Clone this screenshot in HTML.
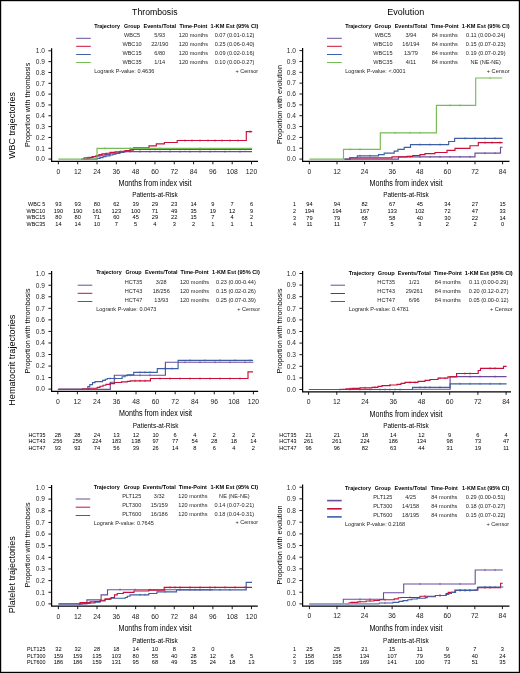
<!DOCTYPE html>
<html><head><meta charset="utf-8"><title>KM curves</title>
<style>
html,body{margin:0;padding:0;background:#fff;}
body{width:520px;height:673px;overflow:hidden;}
svg{display:block;will-change:transform;font-family:"Liberation Sans",sans-serif;}
</style></head><body>
<svg width="520" height="673" viewBox="0 0 520 673">
<rect x="0" y="0" width="520" height="673" fill="#fff"/>
<text x="154.80" y="14.60" font-size="8.9" text-anchor="middle" textLength="45.40" lengthAdjust="spacingAndGlyphs">Thrombosis</text>
<text x="405.70" y="14.70" font-size="8.9" text-anchor="middle" textLength="37.00" lengthAdjust="spacingAndGlyphs">Evolution</text>
<text x="0" y="0" font-size="9.3" text-anchor="middle" textLength="66.70" lengthAdjust="spacingAndGlyphs" transform="translate(14.90,125.45) rotate(-90)">WBC trajectories</text>
<text x="0" y="0" font-size="9.3" text-anchor="middle" textLength="91.00" lengthAdjust="spacingAndGlyphs" transform="translate(14.90,360.20) rotate(-90)">Hematocrit trajectories</text>
<text x="0" y="0" font-size="9.3" text-anchor="middle" textLength="77.00" lengthAdjust="spacingAndGlyphs" transform="translate(14.90,574.80) rotate(-90)">Platelet trajectories</text>
<path d="M51.60,48.20V161.30H258.00" fill="none" stroke="#000" stroke-width="1.25"/>
<line x1="48.40" y1="159.10" x2="51.60" y2="159.10" stroke="#000" stroke-width="0.9"/>
<text x="45.00" y="161.40" font-size="6.6" text-anchor="end" fill="#2a2a2a">0.0</text>
<line x1="48.40" y1="148.27" x2="51.60" y2="148.27" stroke="#000" stroke-width="0.9"/>
<text x="45.00" y="150.57" font-size="6.6" text-anchor="end" fill="#2a2a2a">0.1</text>
<line x1="48.40" y1="137.44" x2="51.60" y2="137.44" stroke="#000" stroke-width="0.9"/>
<text x="45.00" y="139.74" font-size="6.6" text-anchor="end" fill="#2a2a2a">0.2</text>
<line x1="48.40" y1="126.61" x2="51.60" y2="126.61" stroke="#000" stroke-width="0.9"/>
<text x="45.00" y="128.91" font-size="6.6" text-anchor="end" fill="#2a2a2a">0.3</text>
<line x1="48.40" y1="115.78" x2="51.60" y2="115.78" stroke="#000" stroke-width="0.9"/>
<text x="45.00" y="118.08" font-size="6.6" text-anchor="end" fill="#2a2a2a">0.4</text>
<line x1="48.40" y1="104.95" x2="51.60" y2="104.95" stroke="#000" stroke-width="0.9"/>
<text x="45.00" y="107.25" font-size="6.6" text-anchor="end" fill="#2a2a2a">0.5</text>
<line x1="48.40" y1="94.12" x2="51.60" y2="94.12" stroke="#000" stroke-width="0.9"/>
<text x="45.00" y="96.42" font-size="6.6" text-anchor="end" fill="#2a2a2a">0.6</text>
<line x1="48.40" y1="83.29" x2="51.60" y2="83.29" stroke="#000" stroke-width="0.9"/>
<text x="45.00" y="85.59" font-size="6.6" text-anchor="end" fill="#2a2a2a">0.7</text>
<line x1="48.40" y1="72.46" x2="51.60" y2="72.46" stroke="#000" stroke-width="0.9"/>
<text x="45.00" y="74.76" font-size="6.6" text-anchor="end" fill="#2a2a2a">0.8</text>
<line x1="48.40" y1="61.63" x2="51.60" y2="61.63" stroke="#000" stroke-width="0.9"/>
<text x="45.00" y="63.93" font-size="6.6" text-anchor="end" fill="#2a2a2a">0.9</text>
<line x1="48.40" y1="50.80" x2="51.60" y2="50.80" stroke="#000" stroke-width="0.9"/>
<text x="45.00" y="53.10" font-size="6.6" text-anchor="end" fill="#2a2a2a">1.0</text>
<line x1="58.40" y1="161.30" x2="58.40" y2="164.30" stroke="#000" stroke-width="0.9"/>
<text x="58.40" y="173.60" font-size="6.9" text-anchor="middle" textLength="3.80" lengthAdjust="spacingAndGlyphs" fill="#222">0</text>
<line x1="77.71" y1="161.30" x2="77.71" y2="164.30" stroke="#000" stroke-width="0.9"/>
<text x="77.71" y="173.60" font-size="6.9" text-anchor="middle" textLength="7.60" lengthAdjust="spacingAndGlyphs" fill="#222">12</text>
<line x1="97.02" y1="161.30" x2="97.02" y2="164.30" stroke="#000" stroke-width="0.9"/>
<text x="97.02" y="173.60" font-size="6.9" text-anchor="middle" textLength="7.60" lengthAdjust="spacingAndGlyphs" fill="#222">24</text>
<line x1="116.33" y1="161.30" x2="116.33" y2="164.30" stroke="#000" stroke-width="0.9"/>
<text x="116.33" y="173.60" font-size="6.9" text-anchor="middle" textLength="7.60" lengthAdjust="spacingAndGlyphs" fill="#222">36</text>
<line x1="135.64" y1="161.30" x2="135.64" y2="164.30" stroke="#000" stroke-width="0.9"/>
<text x="135.64" y="173.60" font-size="6.9" text-anchor="middle" textLength="7.60" lengthAdjust="spacingAndGlyphs" fill="#222">48</text>
<line x1="154.95" y1="161.30" x2="154.95" y2="164.30" stroke="#000" stroke-width="0.9"/>
<text x="154.95" y="173.60" font-size="6.9" text-anchor="middle" textLength="7.60" lengthAdjust="spacingAndGlyphs" fill="#222">60</text>
<line x1="174.26" y1="161.30" x2="174.26" y2="164.30" stroke="#000" stroke-width="0.9"/>
<text x="174.26" y="173.60" font-size="6.9" text-anchor="middle" textLength="7.60" lengthAdjust="spacingAndGlyphs" fill="#222">72</text>
<line x1="193.57" y1="161.30" x2="193.57" y2="164.30" stroke="#000" stroke-width="0.9"/>
<text x="193.57" y="173.60" font-size="6.9" text-anchor="middle" textLength="7.60" lengthAdjust="spacingAndGlyphs" fill="#222">84</text>
<line x1="212.88" y1="161.30" x2="212.88" y2="164.30" stroke="#000" stroke-width="0.9"/>
<text x="212.88" y="173.60" font-size="6.9" text-anchor="middle" textLength="7.60" lengthAdjust="spacingAndGlyphs" fill="#222">96</text>
<line x1="232.19" y1="161.30" x2="232.19" y2="164.30" stroke="#000" stroke-width="0.9"/>
<text x="232.19" y="173.60" font-size="6.9" text-anchor="middle" textLength="11.40" lengthAdjust="spacingAndGlyphs" fill="#222">108</text>
<line x1="251.50" y1="161.30" x2="251.50" y2="164.30" stroke="#000" stroke-width="0.9"/>
<text x="251.50" y="173.60" font-size="6.9" text-anchor="middle" textLength="11.40" lengthAdjust="spacingAndGlyphs" fill="#222">120</text>
<text x="154.95" y="185.80" font-size="9.2" text-anchor="middle" textLength="73.00" lengthAdjust="spacingAndGlyphs">Months from index visit</text>
<text x="154.95" y="197.30" font-size="6.6" text-anchor="middle" textLength="45.60" lengthAdjust="spacingAndGlyphs">Patients-at-Risk</text>
<text x="45.20" y="206.20" font-size="5.8" text-anchor="end" textLength="17.08" lengthAdjust="spacingAndGlyphs">WBC 5</text>
<text x="58.40" y="206.20" font-size="6.0" text-anchor="middle" textLength="6.34" lengthAdjust="spacingAndGlyphs">93</text>
<text x="77.71" y="206.20" font-size="6.0" text-anchor="middle" textLength="6.34" lengthAdjust="spacingAndGlyphs">93</text>
<text x="97.02" y="206.20" font-size="6.0" text-anchor="middle" textLength="6.34" lengthAdjust="spacingAndGlyphs">80</text>
<text x="116.33" y="206.20" font-size="6.0" text-anchor="middle" textLength="6.34" lengthAdjust="spacingAndGlyphs">62</text>
<text x="135.64" y="206.20" font-size="6.0" text-anchor="middle" textLength="6.34" lengthAdjust="spacingAndGlyphs">39</text>
<text x="154.95" y="206.20" font-size="6.0" text-anchor="middle" textLength="6.34" lengthAdjust="spacingAndGlyphs">29</text>
<text x="174.26" y="206.20" font-size="6.0" text-anchor="middle" textLength="6.34" lengthAdjust="spacingAndGlyphs">23</text>
<text x="193.57" y="206.20" font-size="6.0" text-anchor="middle" textLength="6.34" lengthAdjust="spacingAndGlyphs">14</text>
<text x="212.88" y="206.20" font-size="6.0" text-anchor="middle" textLength="3.17" lengthAdjust="spacingAndGlyphs">9</text>
<text x="232.19" y="206.20" font-size="6.0" text-anchor="middle" textLength="3.17" lengthAdjust="spacingAndGlyphs">7</text>
<text x="251.50" y="206.20" font-size="6.0" text-anchor="middle" textLength="3.17" lengthAdjust="spacingAndGlyphs">6</text>
<text x="45.20" y="212.80" font-size="5.8" text-anchor="end" textLength="18.58" lengthAdjust="spacingAndGlyphs">WBC10</text>
<text x="58.40" y="212.80" font-size="6.0" text-anchor="middle" textLength="9.51" lengthAdjust="spacingAndGlyphs">190</text>
<text x="77.71" y="212.80" font-size="6.0" text-anchor="middle" textLength="9.51" lengthAdjust="spacingAndGlyphs">190</text>
<text x="97.02" y="212.80" font-size="6.0" text-anchor="middle" textLength="9.51" lengthAdjust="spacingAndGlyphs">161</text>
<text x="116.33" y="212.80" font-size="6.0" text-anchor="middle" textLength="9.51" lengthAdjust="spacingAndGlyphs">123</text>
<text x="135.64" y="212.80" font-size="6.0" text-anchor="middle" textLength="9.51" lengthAdjust="spacingAndGlyphs">100</text>
<text x="154.95" y="212.80" font-size="6.0" text-anchor="middle" textLength="6.34" lengthAdjust="spacingAndGlyphs">71</text>
<text x="174.26" y="212.80" font-size="6.0" text-anchor="middle" textLength="6.34" lengthAdjust="spacingAndGlyphs">49</text>
<text x="193.57" y="212.80" font-size="6.0" text-anchor="middle" textLength="6.34" lengthAdjust="spacingAndGlyphs">35</text>
<text x="212.88" y="212.80" font-size="6.0" text-anchor="middle" textLength="6.34" lengthAdjust="spacingAndGlyphs">19</text>
<text x="232.19" y="212.80" font-size="6.0" text-anchor="middle" textLength="6.34" lengthAdjust="spacingAndGlyphs">12</text>
<text x="251.50" y="212.80" font-size="6.0" text-anchor="middle" textLength="3.17" lengthAdjust="spacingAndGlyphs">9</text>
<text x="45.20" y="219.30" font-size="5.8" text-anchor="end" textLength="18.58" lengthAdjust="spacingAndGlyphs">WBC15</text>
<text x="58.40" y="219.30" font-size="6.0" text-anchor="middle" textLength="6.34" lengthAdjust="spacingAndGlyphs">80</text>
<text x="77.71" y="219.30" font-size="6.0" text-anchor="middle" textLength="6.34" lengthAdjust="spacingAndGlyphs">80</text>
<text x="97.02" y="219.30" font-size="6.0" text-anchor="middle" textLength="6.34" lengthAdjust="spacingAndGlyphs">71</text>
<text x="116.33" y="219.30" font-size="6.0" text-anchor="middle" textLength="6.34" lengthAdjust="spacingAndGlyphs">60</text>
<text x="135.64" y="219.30" font-size="6.0" text-anchor="middle" textLength="6.34" lengthAdjust="spacingAndGlyphs">45</text>
<text x="154.95" y="219.30" font-size="6.0" text-anchor="middle" textLength="6.34" lengthAdjust="spacingAndGlyphs">29</text>
<text x="174.26" y="219.30" font-size="6.0" text-anchor="middle" textLength="6.34" lengthAdjust="spacingAndGlyphs">22</text>
<text x="193.57" y="219.30" font-size="6.0" text-anchor="middle" textLength="6.34" lengthAdjust="spacingAndGlyphs">15</text>
<text x="212.88" y="219.30" font-size="6.0" text-anchor="middle" textLength="3.17" lengthAdjust="spacingAndGlyphs">7</text>
<text x="232.19" y="219.30" font-size="6.0" text-anchor="middle" textLength="3.17" lengthAdjust="spacingAndGlyphs">4</text>
<text x="251.50" y="219.30" font-size="6.0" text-anchor="middle" textLength="3.17" lengthAdjust="spacingAndGlyphs">2</text>
<text x="45.20" y="225.80" font-size="5.8" text-anchor="end" textLength="18.58" lengthAdjust="spacingAndGlyphs">WBC35</text>
<text x="58.40" y="225.80" font-size="6.0" text-anchor="middle" textLength="6.34" lengthAdjust="spacingAndGlyphs">14</text>
<text x="77.71" y="225.80" font-size="6.0" text-anchor="middle" textLength="6.34" lengthAdjust="spacingAndGlyphs">14</text>
<text x="97.02" y="225.80" font-size="6.0" text-anchor="middle" textLength="6.34" lengthAdjust="spacingAndGlyphs">10</text>
<text x="116.33" y="225.80" font-size="6.0" text-anchor="middle" textLength="3.17" lengthAdjust="spacingAndGlyphs">7</text>
<text x="135.64" y="225.80" font-size="6.0" text-anchor="middle" textLength="3.17" lengthAdjust="spacingAndGlyphs">5</text>
<text x="154.95" y="225.80" font-size="6.0" text-anchor="middle" textLength="3.17" lengthAdjust="spacingAndGlyphs">4</text>
<text x="174.26" y="225.80" font-size="6.0" text-anchor="middle" textLength="3.17" lengthAdjust="spacingAndGlyphs">3</text>
<text x="193.57" y="225.80" font-size="6.0" text-anchor="middle" textLength="3.17" lengthAdjust="spacingAndGlyphs">2</text>
<text x="212.88" y="225.80" font-size="6.0" text-anchor="middle" textLength="3.17" lengthAdjust="spacingAndGlyphs">1</text>
<text x="232.19" y="225.80" font-size="6.0" text-anchor="middle" textLength="3.17" lengthAdjust="spacingAndGlyphs">1</text>
<text x="251.50" y="225.80" font-size="6.0" text-anchor="middle" textLength="3.17" lengthAdjust="spacingAndGlyphs">1</text>
<text x="0" y="0" font-size="7.1" text-anchor="middle" textLength="84.30" lengthAdjust="spacingAndGlyphs" transform="translate(30.40,104.90) rotate(-90)">Proportion with thrombosis</text>
<text x="107.10" y="27.70" font-size="5.5" text-anchor="middle" font-weight="bold" textLength="25.80" lengthAdjust="spacingAndGlyphs">Trajectory</text>
<text x="132.00" y="27.70" font-size="5.5" text-anchor="middle" font-weight="bold" textLength="16.00" lengthAdjust="spacingAndGlyphs">Group</text>
<text x="159.80" y="27.70" font-size="5.5" text-anchor="middle" font-weight="bold" textLength="32.70" lengthAdjust="spacingAndGlyphs">Events/Total</text>
<text x="193.40" y="27.70" font-size="5.5" text-anchor="middle" font-weight="bold" textLength="27.80" lengthAdjust="spacingAndGlyphs">Time-Point</text>
<text x="234.50" y="27.70" font-size="5.5" text-anchor="middle" font-weight="bold" textLength="47.80" lengthAdjust="spacingAndGlyphs">1-KM Est (95% CI)</text>
<line x1="76.20" y1="38.30" x2="90.80" y2="38.30" stroke="#6b4c9a" stroke-width="1.0"/>
<text x="132.00" y="37.00" font-size="6.2" text-anchor="middle" textLength="16.12" lengthAdjust="spacingAndGlyphs" fill="#262626">WBC5</text>
<text x="159.80" y="37.00" font-size="6.2" text-anchor="middle" textLength="10.86" lengthAdjust="spacingAndGlyphs" fill="#262626">5/93</text>
<text x="193.40" y="37.00" font-size="6.2" text-anchor="middle" textLength="29.16" lengthAdjust="spacingAndGlyphs" fill="#262626">120 months</text>
<text x="234.50" y="37.00" font-size="6.2" text-anchor="middle" textLength="39.71" lengthAdjust="spacingAndGlyphs" fill="#262626">0.07 (0.01-0.12)</text>
<line x1="76.20" y1="46.30" x2="90.80" y2="46.30" stroke="#c8103a" stroke-width="1.0"/>
<text x="132.00" y="46.20" font-size="6.2" text-anchor="middle" textLength="19.23" lengthAdjust="spacingAndGlyphs" fill="#262626">WBC10</text>
<text x="159.80" y="46.20" font-size="6.2" text-anchor="middle" textLength="17.07" lengthAdjust="spacingAndGlyphs" fill="#262626">22/190</text>
<text x="193.40" y="46.20" font-size="6.2" text-anchor="middle" textLength="29.16" lengthAdjust="spacingAndGlyphs" fill="#262626">120 months</text>
<text x="234.50" y="46.20" font-size="6.2" text-anchor="middle" textLength="39.71" lengthAdjust="spacingAndGlyphs" fill="#262626">0.25 (0.06-0.40)</text>
<line x1="76.20" y1="54.50" x2="90.80" y2="54.50" stroke="#3e5fa3" stroke-width="1.0"/>
<text x="132.00" y="55.20" font-size="6.2" text-anchor="middle" textLength="19.23" lengthAdjust="spacingAndGlyphs" fill="#262626">WBC15</text>
<text x="159.80" y="55.20" font-size="6.2" text-anchor="middle" textLength="10.86" lengthAdjust="spacingAndGlyphs" fill="#262626">6/80</text>
<text x="193.40" y="55.20" font-size="6.2" text-anchor="middle" textLength="29.16" lengthAdjust="spacingAndGlyphs" fill="#262626">120 months</text>
<text x="234.50" y="55.20" font-size="6.2" text-anchor="middle" textLength="39.71" lengthAdjust="spacingAndGlyphs" fill="#262626">0.09 (0.02-0.16)</text>
<line x1="76.20" y1="62.50" x2="90.80" y2="62.50" stroke="#76bc55" stroke-width="1.0"/>
<text x="132.00" y="64.10" font-size="6.2" text-anchor="middle" textLength="19.23" lengthAdjust="spacingAndGlyphs" fill="#262626">WBC35</text>
<text x="159.80" y="64.10" font-size="6.2" text-anchor="middle" textLength="10.86" lengthAdjust="spacingAndGlyphs" fill="#262626">1/14</text>
<text x="193.40" y="64.10" font-size="6.2" text-anchor="middle" textLength="29.16" lengthAdjust="spacingAndGlyphs" fill="#262626">120 months</text>
<text x="234.50" y="64.10" font-size="6.2" text-anchor="middle" textLength="39.71" lengthAdjust="spacingAndGlyphs" fill="#262626">0.10 (0.00-0.27)</text>
<text x="94.20" y="73.20" font-size="6.2" textLength="60.13" lengthAdjust="spacingAndGlyphs" fill="#262626">Logrank P-value: 0.4636</text>
<text x="258.20" y="73.20" font-size="6.2" text-anchor="end" textLength="22.80" lengthAdjust="spacingAndGlyphs" fill="#262626">+ Censor</text>
<path d="M81.00,159.10H84.00V157.90H88.00V157.20H92.00V156.60H97.00V156.00H101.00V155.20H105.00V154.40H110.00V153.70H115.00V153.00H119.00V152.30H124.00V151.60H252.00V151.60" fill="none" stroke="#6b4c9a" stroke-width="1.15" stroke-opacity="1.0"/>
<path d="M130.00,150.50V152.70M140.00,150.50V152.70M150.00,150.50V152.70M160.00,150.50V152.70M170.00,150.50V152.70M180.00,150.50V152.70M190.00,150.50V152.70M200.00,150.50V152.70M210.00,150.50V152.70M225.00,150.50V152.70M240.00,150.50V152.70" fill="none" stroke="#6b4c9a" stroke-width="0.7" stroke-opacity="1.0"/>
<path d="M83.00,159.10H97.00V158.40H100.00V157.60H103.00V156.60H106.00V155.80H110.00V155.00H113.00V154.20H116.00V153.40H120.00V152.40H123.00V151.60H126.00V151.00H130.00V150.00H133.00V149.30H252.00V149.30" fill="none" stroke="#3e5fa3" stroke-width="1.15" stroke-opacity="1.0"/>
<path d="M140.00,148.20V150.40M155.00,148.20V150.40M170.00,148.20V150.40M185.00,148.20V150.40M200.00,148.20V150.40M215.00,148.20V150.40M230.00,148.20V150.40M245.00,148.20V150.40" fill="none" stroke="#3e5fa3" stroke-width="0.7" stroke-opacity="1.0"/>
<path d="M84.00,159.10H87.00V158.30H90.00V157.50H93.00V156.60H96.00V155.60H99.00V154.60H102.00V153.90H106.00V153.20H110.00V152.40H115.00V151.80H120.00V151.20H125.00V150.50H130.00V149.80H133.50V147.90H149.00V145.90H156.30V143.90H164.40V142.50H177.20V140.50H246.30V131.60H252.20V131.60" fill="none" stroke="#c8103a" stroke-width="1.15" stroke-opacity="1.0"/>
<path d="M185.00,139.40V141.60M192.00,139.40V141.60M200.00,139.40V141.60M208.00,139.40V141.60M215.00,139.40V141.60M222.00,139.40V141.60M230.00,139.40V141.60M238.00,139.40V141.60M250.00,130.50V132.70" fill="none" stroke="#c8103a" stroke-width="0.7" stroke-opacity="1.0"/>
<path d="M58.40,159.10H97.00V148.30H252.20V148.30" fill="none" stroke="#76bc55" stroke-width="1.15" stroke-opacity="1.0"/>
<path d="M105.00,147.20V149.40M130.00,147.20V149.40M160.00,147.20V149.40M200.00,147.20V149.40" fill="none" stroke="#76bc55" stroke-width="0.7" stroke-opacity="1.0"/>
<path d="M302.60,48.00V161.30H509.50" fill="none" stroke="#000" stroke-width="1.25"/>
<line x1="299.40" y1="159.10" x2="302.60" y2="159.10" stroke="#000" stroke-width="0.9"/>
<text x="296.00" y="161.40" font-size="6.6" text-anchor="end" fill="#2a2a2a">0.0</text>
<line x1="299.40" y1="148.25" x2="302.60" y2="148.25" stroke="#000" stroke-width="0.9"/>
<text x="296.00" y="150.55" font-size="6.6" text-anchor="end" fill="#2a2a2a">0.1</text>
<line x1="299.40" y1="137.40" x2="302.60" y2="137.40" stroke="#000" stroke-width="0.9"/>
<text x="296.00" y="139.70" font-size="6.6" text-anchor="end" fill="#2a2a2a">0.2</text>
<line x1="299.40" y1="126.55" x2="302.60" y2="126.55" stroke="#000" stroke-width="0.9"/>
<text x="296.00" y="128.85" font-size="6.6" text-anchor="end" fill="#2a2a2a">0.3</text>
<line x1="299.40" y1="115.70" x2="302.60" y2="115.70" stroke="#000" stroke-width="0.9"/>
<text x="296.00" y="118.00" font-size="6.6" text-anchor="end" fill="#2a2a2a">0.4</text>
<line x1="299.40" y1="104.85" x2="302.60" y2="104.85" stroke="#000" stroke-width="0.9"/>
<text x="296.00" y="107.15" font-size="6.6" text-anchor="end" fill="#2a2a2a">0.5</text>
<line x1="299.40" y1="94.00" x2="302.60" y2="94.00" stroke="#000" stroke-width="0.9"/>
<text x="296.00" y="96.30" font-size="6.6" text-anchor="end" fill="#2a2a2a">0.6</text>
<line x1="299.40" y1="83.15" x2="302.60" y2="83.15" stroke="#000" stroke-width="0.9"/>
<text x="296.00" y="85.45" font-size="6.6" text-anchor="end" fill="#2a2a2a">0.7</text>
<line x1="299.40" y1="72.30" x2="302.60" y2="72.30" stroke="#000" stroke-width="0.9"/>
<text x="296.00" y="74.60" font-size="6.6" text-anchor="end" fill="#2a2a2a">0.8</text>
<line x1="299.40" y1="61.45" x2="302.60" y2="61.45" stroke="#000" stroke-width="0.9"/>
<text x="296.00" y="63.75" font-size="6.6" text-anchor="end" fill="#2a2a2a">0.9</text>
<line x1="299.40" y1="50.60" x2="302.60" y2="50.60" stroke="#000" stroke-width="0.9"/>
<text x="296.00" y="52.90" font-size="6.6" text-anchor="end" fill="#2a2a2a">1.0</text>
<line x1="309.40" y1="161.30" x2="309.40" y2="164.30" stroke="#000" stroke-width="0.9"/>
<text x="309.40" y="173.60" font-size="6.9" text-anchor="middle" textLength="3.80" lengthAdjust="spacingAndGlyphs" fill="#222">0</text>
<line x1="337.00" y1="161.30" x2="337.00" y2="164.30" stroke="#000" stroke-width="0.9"/>
<text x="337.00" y="173.60" font-size="6.9" text-anchor="middle" textLength="7.60" lengthAdjust="spacingAndGlyphs" fill="#222">12</text>
<line x1="364.60" y1="161.30" x2="364.60" y2="164.30" stroke="#000" stroke-width="0.9"/>
<text x="364.60" y="173.60" font-size="6.9" text-anchor="middle" textLength="7.60" lengthAdjust="spacingAndGlyphs" fill="#222">24</text>
<line x1="392.20" y1="161.30" x2="392.20" y2="164.30" stroke="#000" stroke-width="0.9"/>
<text x="392.20" y="173.60" font-size="6.9" text-anchor="middle" textLength="7.60" lengthAdjust="spacingAndGlyphs" fill="#222">36</text>
<line x1="419.80" y1="161.30" x2="419.80" y2="164.30" stroke="#000" stroke-width="0.9"/>
<text x="419.80" y="173.60" font-size="6.9" text-anchor="middle" textLength="7.60" lengthAdjust="spacingAndGlyphs" fill="#222">48</text>
<line x1="447.40" y1="161.30" x2="447.40" y2="164.30" stroke="#000" stroke-width="0.9"/>
<text x="447.40" y="173.60" font-size="6.9" text-anchor="middle" textLength="7.60" lengthAdjust="spacingAndGlyphs" fill="#222">60</text>
<line x1="475.00" y1="161.30" x2="475.00" y2="164.30" stroke="#000" stroke-width="0.9"/>
<text x="475.00" y="173.60" font-size="6.9" text-anchor="middle" textLength="7.60" lengthAdjust="spacingAndGlyphs" fill="#222">72</text>
<line x1="502.60" y1="161.30" x2="502.60" y2="164.30" stroke="#000" stroke-width="0.9"/>
<text x="502.60" y="173.60" font-size="6.9" text-anchor="middle" textLength="7.60" lengthAdjust="spacingAndGlyphs" fill="#222">84</text>
<text x="406.00" y="185.80" font-size="9.2" text-anchor="middle" textLength="73.00" lengthAdjust="spacingAndGlyphs">Months from index visit</text>
<text x="406.00" y="197.30" font-size="6.6" text-anchor="middle" textLength="45.60" lengthAdjust="spacingAndGlyphs">Patients-at-Risk</text>
<text x="294.60" y="206.30" font-size="5.8" text-anchor="middle" textLength="3.00" lengthAdjust="spacingAndGlyphs">1</text>
<text x="309.40" y="206.30" font-size="6.0" text-anchor="middle" textLength="6.34" lengthAdjust="spacingAndGlyphs">94</text>
<text x="337.00" y="206.30" font-size="6.0" text-anchor="middle" textLength="6.34" lengthAdjust="spacingAndGlyphs">94</text>
<text x="364.60" y="206.30" font-size="6.0" text-anchor="middle" textLength="6.34" lengthAdjust="spacingAndGlyphs">82</text>
<text x="392.20" y="206.30" font-size="6.0" text-anchor="middle" textLength="6.34" lengthAdjust="spacingAndGlyphs">67</text>
<text x="419.80" y="206.30" font-size="6.0" text-anchor="middle" textLength="6.34" lengthAdjust="spacingAndGlyphs">45</text>
<text x="447.40" y="206.30" font-size="6.0" text-anchor="middle" textLength="6.34" lengthAdjust="spacingAndGlyphs">34</text>
<text x="475.00" y="206.30" font-size="6.0" text-anchor="middle" textLength="6.34" lengthAdjust="spacingAndGlyphs">27</text>
<text x="502.60" y="206.30" font-size="6.0" text-anchor="middle" textLength="6.34" lengthAdjust="spacingAndGlyphs">15</text>
<text x="294.60" y="212.80" font-size="5.8" text-anchor="middle" textLength="3.00" lengthAdjust="spacingAndGlyphs">2</text>
<text x="309.40" y="212.80" font-size="6.0" text-anchor="middle" textLength="9.51" lengthAdjust="spacingAndGlyphs">194</text>
<text x="337.00" y="212.80" font-size="6.0" text-anchor="middle" textLength="9.51" lengthAdjust="spacingAndGlyphs">194</text>
<text x="364.60" y="212.80" font-size="6.0" text-anchor="middle" textLength="9.51" lengthAdjust="spacingAndGlyphs">167</text>
<text x="392.20" y="212.80" font-size="6.0" text-anchor="middle" textLength="9.51" lengthAdjust="spacingAndGlyphs">133</text>
<text x="419.80" y="212.80" font-size="6.0" text-anchor="middle" textLength="9.51" lengthAdjust="spacingAndGlyphs">102</text>
<text x="447.40" y="212.80" font-size="6.0" text-anchor="middle" textLength="6.34" lengthAdjust="spacingAndGlyphs">72</text>
<text x="475.00" y="212.80" font-size="6.0" text-anchor="middle" textLength="6.34" lengthAdjust="spacingAndGlyphs">47</text>
<text x="502.60" y="212.80" font-size="6.0" text-anchor="middle" textLength="6.34" lengthAdjust="spacingAndGlyphs">33</text>
<text x="294.60" y="219.50" font-size="5.8" text-anchor="middle" textLength="3.00" lengthAdjust="spacingAndGlyphs">3</text>
<text x="309.40" y="219.50" font-size="6.0" text-anchor="middle" textLength="6.34" lengthAdjust="spacingAndGlyphs">79</text>
<text x="337.00" y="219.50" font-size="6.0" text-anchor="middle" textLength="6.34" lengthAdjust="spacingAndGlyphs">79</text>
<text x="364.60" y="219.50" font-size="6.0" text-anchor="middle" textLength="6.34" lengthAdjust="spacingAndGlyphs">68</text>
<text x="392.20" y="219.50" font-size="6.0" text-anchor="middle" textLength="6.34" lengthAdjust="spacingAndGlyphs">58</text>
<text x="419.80" y="219.50" font-size="6.0" text-anchor="middle" textLength="6.34" lengthAdjust="spacingAndGlyphs">40</text>
<text x="447.40" y="219.50" font-size="6.0" text-anchor="middle" textLength="6.34" lengthAdjust="spacingAndGlyphs">30</text>
<text x="475.00" y="219.50" font-size="6.0" text-anchor="middle" textLength="6.34" lengthAdjust="spacingAndGlyphs">22</text>
<text x="502.60" y="219.50" font-size="6.0" text-anchor="middle" textLength="6.34" lengthAdjust="spacingAndGlyphs">14</text>
<text x="294.60" y="226.30" font-size="5.8" text-anchor="middle" textLength="3.00" lengthAdjust="spacingAndGlyphs">4</text>
<text x="309.40" y="226.30" font-size="6.0" text-anchor="middle" textLength="5.92" lengthAdjust="spacingAndGlyphs">11</text>
<text x="337.00" y="226.30" font-size="6.0" text-anchor="middle" textLength="5.92" lengthAdjust="spacingAndGlyphs">11</text>
<text x="364.60" y="226.30" font-size="6.0" text-anchor="middle" textLength="3.17" lengthAdjust="spacingAndGlyphs">7</text>
<text x="392.20" y="226.30" font-size="6.0" text-anchor="middle" textLength="3.17" lengthAdjust="spacingAndGlyphs">5</text>
<text x="419.80" y="226.30" font-size="6.0" text-anchor="middle" textLength="3.17" lengthAdjust="spacingAndGlyphs">3</text>
<text x="447.40" y="226.30" font-size="6.0" text-anchor="middle" textLength="3.17" lengthAdjust="spacingAndGlyphs">2</text>
<text x="475.00" y="226.30" font-size="6.0" text-anchor="middle" textLength="3.17" lengthAdjust="spacingAndGlyphs">2</text>
<text x="502.60" y="226.30" font-size="6.0" text-anchor="middle" textLength="3.17" lengthAdjust="spacingAndGlyphs">0</text>
<text x="0" y="0" font-size="7.1" text-anchor="middle" textLength="79.00" lengthAdjust="spacingAndGlyphs" transform="translate(282.00,104.60) rotate(-90)">Proportion with evolution</text>
<text x="358.20" y="27.70" font-size="5.5" text-anchor="middle" font-weight="bold" textLength="26.00" lengthAdjust="spacingAndGlyphs">Trajectory</text>
<text x="382.90" y="27.70" font-size="5.5" text-anchor="middle" font-weight="bold" textLength="16.60" lengthAdjust="spacingAndGlyphs">Group</text>
<text x="410.90" y="27.70" font-size="5.5" text-anchor="middle" font-weight="bold" textLength="32.50" lengthAdjust="spacingAndGlyphs">Events/Total</text>
<text x="444.70" y="27.70" font-size="5.5" text-anchor="middle" font-weight="bold" textLength="28.00" lengthAdjust="spacingAndGlyphs">Time-Point</text>
<text x="485.70" y="27.70" font-size="5.5" text-anchor="middle" font-weight="bold" textLength="47.80" lengthAdjust="spacingAndGlyphs">1-KM Est (95% CI)</text>
<line x1="327.00" y1="38.30" x2="341.80" y2="38.30" stroke="#6b4c9a" stroke-width="1.0"/>
<text x="382.90" y="37.00" font-size="6.2" text-anchor="middle" textLength="16.12" lengthAdjust="spacingAndGlyphs" fill="#262626">WBC5</text>
<text x="410.90" y="37.00" font-size="6.2" text-anchor="middle" textLength="10.86" lengthAdjust="spacingAndGlyphs" fill="#262626">3/94</text>
<text x="444.70" y="37.00" font-size="6.2" text-anchor="middle" textLength="26.06" lengthAdjust="spacingAndGlyphs" fill="#262626">84 months</text>
<text x="485.70" y="37.00" font-size="6.2" text-anchor="middle" textLength="39.29" lengthAdjust="spacingAndGlyphs" fill="#262626">0.11 (0.00-0.24)</text>
<line x1="327.00" y1="46.30" x2="341.80" y2="46.30" stroke="#c8103a" stroke-width="1.0"/>
<text x="382.90" y="46.20" font-size="6.2" text-anchor="middle" textLength="19.23" lengthAdjust="spacingAndGlyphs" fill="#262626">WBC10</text>
<text x="410.90" y="46.20" font-size="6.2" text-anchor="middle" textLength="17.07" lengthAdjust="spacingAndGlyphs" fill="#262626">16/194</text>
<text x="444.70" y="46.20" font-size="6.2" text-anchor="middle" textLength="26.06" lengthAdjust="spacingAndGlyphs" fill="#262626">84 months</text>
<text x="485.70" y="46.20" font-size="6.2" text-anchor="middle" textLength="39.71" lengthAdjust="spacingAndGlyphs" fill="#262626">0.15 (0.07-0.23)</text>
<line x1="327.00" y1="54.50" x2="341.80" y2="54.50" stroke="#3e5fa3" stroke-width="1.0"/>
<text x="382.90" y="55.20" font-size="6.2" text-anchor="middle" textLength="19.23" lengthAdjust="spacingAndGlyphs" fill="#262626">WBC15</text>
<text x="410.90" y="55.20" font-size="6.2" text-anchor="middle" textLength="13.96" lengthAdjust="spacingAndGlyphs" fill="#262626">13/79</text>
<text x="444.70" y="55.20" font-size="6.2" text-anchor="middle" textLength="26.06" lengthAdjust="spacingAndGlyphs" fill="#262626">84 months</text>
<text x="485.70" y="55.20" font-size="6.2" text-anchor="middle" textLength="39.71" lengthAdjust="spacingAndGlyphs" fill="#262626">0.19 (0.07-0.29)</text>
<line x1="327.00" y1="62.50" x2="341.80" y2="62.50" stroke="#76bc55" stroke-width="1.0"/>
<text x="382.90" y="64.10" font-size="6.2" text-anchor="middle" textLength="19.23" lengthAdjust="spacingAndGlyphs" fill="#262626">WBC35</text>
<text x="410.90" y="64.10" font-size="6.2" text-anchor="middle" textLength="10.45" lengthAdjust="spacingAndGlyphs" fill="#262626">4/11</text>
<text x="444.70" y="64.10" font-size="6.2" text-anchor="middle" textLength="26.06" lengthAdjust="spacingAndGlyphs" fill="#262626">84 months</text>
<text x="485.70" y="64.10" font-size="6.2" text-anchor="middle" textLength="30.38" lengthAdjust="spacingAndGlyphs" fill="#262626">NE (NE-NE)</text>
<text x="345.20" y="73.20" font-size="6.2" textLength="60.28" lengthAdjust="spacingAndGlyphs" fill="#262626">Logrank P-value: &lt;.0001</text>
<text x="509.60" y="73.20" font-size="6.2" text-anchor="end" textLength="22.80" lengthAdjust="spacingAndGlyphs" fill="#262626">+ Censor</text>
<path d="M349.00,159.10H398.50V156.90H475.00V153.10H500.50V147.20H502.60V147.20" fill="none" stroke="#6b4c9a" stroke-width="1.15" stroke-opacity="1.0"/>
<path d="M410.00,155.80V158.00M420.00,155.80V158.00M430.00,155.80V158.00M440.00,155.80V158.00M450.00,155.80V158.00M460.00,155.80V158.00M470.00,155.80V158.00M485.00,152.00V154.20M495.00,152.00V154.20" fill="none" stroke="#6b4c9a" stroke-width="0.7" stroke-opacity="1.0"/>
<path d="M345.00,159.10H350.00V157.80H392.00V156.90H407.00V156.40H412.70V155.50H420.00V154.60H425.00V153.60H435.00V152.50H447.00V150.40H455.00V148.30H470.00V145.70H478.30V142.60H502.60V142.60" fill="none" stroke="#c8103a" stroke-width="1.15" stroke-opacity="1.0"/>
<path d="M485.00,141.50V143.70M492.00,141.50V143.70M500.00,141.50V143.70" fill="none" stroke="#c8103a" stroke-width="0.7" stroke-opacity="1.0"/>
<path d="M344.00,159.10H349.60V157.70H357.30V155.80H378.50V154.60H384.20V153.10H394.20V151.10H398.00V149.30H404.20V147.40H410.50V144.60H448.70V141.50H454.60V138.30H502.60V138.30" fill="none" stroke="#3e5fa3" stroke-width="1.15" stroke-opacity="1.0"/>
<path d="M360.00,154.70V156.90M370.00,154.70V156.90M420.00,143.50V145.70M430.00,143.50V145.70M440.00,143.50V145.70M465.00,137.20V139.40M475.00,137.20V139.40M485.00,137.20V139.40M495.00,137.20V139.40" fill="none" stroke="#3e5fa3" stroke-width="0.7" stroke-opacity="1.0"/>
<path d="M309.40,159.10H343.50V149.30H380.30V132.80H436.40V105.30H475.70V78.00H502.30V78.00" fill="none" stroke="#76bc55" stroke-width="1.15" stroke-opacity="1.0"/>
<path d="M350.00,148.20V150.40M360.00,148.20V150.40M395.00,131.70V133.90M410.00,131.70V133.90M420.00,131.70V133.90M450.00,104.20V106.40M460.00,104.20V106.40M490.00,76.90V79.10" fill="none" stroke="#76bc55" stroke-width="0.7" stroke-opacity="1.0"/>
<path d="M51.60,271.10V391.30H258.20" fill="none" stroke="#000" stroke-width="1.25"/>
<line x1="48.40" y1="389.15" x2="51.60" y2="389.15" stroke="#000" stroke-width="0.9"/>
<text x="45.00" y="391.45" font-size="6.6" text-anchor="end" fill="#2a2a2a">0.0</text>
<line x1="48.40" y1="377.60" x2="51.60" y2="377.60" stroke="#000" stroke-width="0.9"/>
<text x="45.00" y="379.90" font-size="6.6" text-anchor="end" fill="#2a2a2a">0.1</text>
<line x1="48.40" y1="366.06" x2="51.60" y2="366.06" stroke="#000" stroke-width="0.9"/>
<text x="45.00" y="368.36" font-size="6.6" text-anchor="end" fill="#2a2a2a">0.2</text>
<line x1="48.40" y1="354.51" x2="51.60" y2="354.51" stroke="#000" stroke-width="0.9"/>
<text x="45.00" y="356.81" font-size="6.6" text-anchor="end" fill="#2a2a2a">0.3</text>
<line x1="48.40" y1="342.97" x2="51.60" y2="342.97" stroke="#000" stroke-width="0.9"/>
<text x="45.00" y="345.27" font-size="6.6" text-anchor="end" fill="#2a2a2a">0.4</text>
<line x1="48.40" y1="331.42" x2="51.60" y2="331.42" stroke="#000" stroke-width="0.9"/>
<text x="45.00" y="333.72" font-size="6.6" text-anchor="end" fill="#2a2a2a">0.5</text>
<line x1="48.40" y1="319.88" x2="51.60" y2="319.88" stroke="#000" stroke-width="0.9"/>
<text x="45.00" y="322.18" font-size="6.6" text-anchor="end" fill="#2a2a2a">0.6</text>
<line x1="48.40" y1="308.33" x2="51.60" y2="308.33" stroke="#000" stroke-width="0.9"/>
<text x="45.00" y="310.63" font-size="6.6" text-anchor="end" fill="#2a2a2a">0.7</text>
<line x1="48.40" y1="296.79" x2="51.60" y2="296.79" stroke="#000" stroke-width="0.9"/>
<text x="45.00" y="299.09" font-size="6.6" text-anchor="end" fill="#2a2a2a">0.8</text>
<line x1="48.40" y1="285.25" x2="51.60" y2="285.25" stroke="#000" stroke-width="0.9"/>
<text x="45.00" y="287.55" font-size="6.6" text-anchor="end" fill="#2a2a2a">0.9</text>
<line x1="48.40" y1="273.70" x2="51.60" y2="273.70" stroke="#000" stroke-width="0.9"/>
<text x="45.00" y="276.00" font-size="6.6" text-anchor="end" fill="#2a2a2a">1.0</text>
<line x1="57.80" y1="391.30" x2="57.80" y2="394.30" stroke="#000" stroke-width="0.9"/>
<text x="57.80" y="403.90" font-size="6.9" text-anchor="middle" textLength="3.80" lengthAdjust="spacingAndGlyphs" fill="#222">0</text>
<line x1="77.36" y1="391.30" x2="77.36" y2="394.30" stroke="#000" stroke-width="0.9"/>
<text x="77.36" y="403.90" font-size="6.9" text-anchor="middle" textLength="7.60" lengthAdjust="spacingAndGlyphs" fill="#222">12</text>
<line x1="96.92" y1="391.30" x2="96.92" y2="394.30" stroke="#000" stroke-width="0.9"/>
<text x="96.92" y="403.90" font-size="6.9" text-anchor="middle" textLength="7.60" lengthAdjust="spacingAndGlyphs" fill="#222">24</text>
<line x1="116.48" y1="391.30" x2="116.48" y2="394.30" stroke="#000" stroke-width="0.9"/>
<text x="116.48" y="403.90" font-size="6.9" text-anchor="middle" textLength="7.60" lengthAdjust="spacingAndGlyphs" fill="#222">36</text>
<line x1="136.04" y1="391.30" x2="136.04" y2="394.30" stroke="#000" stroke-width="0.9"/>
<text x="136.04" y="403.90" font-size="6.9" text-anchor="middle" textLength="7.60" lengthAdjust="spacingAndGlyphs" fill="#222">48</text>
<line x1="155.60" y1="391.30" x2="155.60" y2="394.30" stroke="#000" stroke-width="0.9"/>
<text x="155.60" y="403.90" font-size="6.9" text-anchor="middle" textLength="7.60" lengthAdjust="spacingAndGlyphs" fill="#222">60</text>
<line x1="175.16" y1="391.30" x2="175.16" y2="394.30" stroke="#000" stroke-width="0.9"/>
<text x="175.16" y="403.90" font-size="6.9" text-anchor="middle" textLength="7.60" lengthAdjust="spacingAndGlyphs" fill="#222">72</text>
<line x1="194.72" y1="391.30" x2="194.72" y2="394.30" stroke="#000" stroke-width="0.9"/>
<text x="194.72" y="403.90" font-size="6.9" text-anchor="middle" textLength="7.60" lengthAdjust="spacingAndGlyphs" fill="#222">84</text>
<line x1="214.28" y1="391.30" x2="214.28" y2="394.30" stroke="#000" stroke-width="0.9"/>
<text x="214.28" y="403.90" font-size="6.9" text-anchor="middle" textLength="7.60" lengthAdjust="spacingAndGlyphs" fill="#222">96</text>
<line x1="233.84" y1="391.30" x2="233.84" y2="394.30" stroke="#000" stroke-width="0.9"/>
<text x="233.84" y="403.90" font-size="6.9" text-anchor="middle" textLength="11.40" lengthAdjust="spacingAndGlyphs" fill="#222">108</text>
<line x1="253.40" y1="391.30" x2="253.40" y2="394.30" stroke="#000" stroke-width="0.9"/>
<text x="253.40" y="403.90" font-size="6.9" text-anchor="middle" textLength="11.40" lengthAdjust="spacingAndGlyphs" fill="#222">120</text>
<text x="155.60" y="416.40" font-size="9.2" text-anchor="middle" textLength="73.00" lengthAdjust="spacingAndGlyphs">Months from index visit</text>
<text x="155.60" y="427.90" font-size="6.6" text-anchor="middle" textLength="45.60" lengthAdjust="spacingAndGlyphs">Patients-at-Risk</text>
<text x="45.50" y="436.70" font-size="5.8" text-anchor="end" textLength="17.09" lengthAdjust="spacingAndGlyphs">HCT35</text>
<text x="57.80" y="436.70" font-size="6.0" text-anchor="middle" textLength="6.34" lengthAdjust="spacingAndGlyphs">28</text>
<text x="77.36" y="436.70" font-size="6.0" text-anchor="middle" textLength="6.34" lengthAdjust="spacingAndGlyphs">28</text>
<text x="96.92" y="436.70" font-size="6.0" text-anchor="middle" textLength="6.34" lengthAdjust="spacingAndGlyphs">24</text>
<text x="116.48" y="436.70" font-size="6.0" text-anchor="middle" textLength="6.34" lengthAdjust="spacingAndGlyphs">13</text>
<text x="136.04" y="436.70" font-size="6.0" text-anchor="middle" textLength="6.34" lengthAdjust="spacingAndGlyphs">12</text>
<text x="155.60" y="436.70" font-size="6.0" text-anchor="middle" textLength="6.34" lengthAdjust="spacingAndGlyphs">10</text>
<text x="175.16" y="436.70" font-size="6.0" text-anchor="middle" textLength="3.17" lengthAdjust="spacingAndGlyphs">6</text>
<text x="194.72" y="436.70" font-size="6.0" text-anchor="middle" textLength="3.17" lengthAdjust="spacingAndGlyphs">4</text>
<text x="214.28" y="436.70" font-size="6.0" text-anchor="middle" textLength="3.17" lengthAdjust="spacingAndGlyphs">2</text>
<text x="233.84" y="436.70" font-size="6.0" text-anchor="middle" textLength="3.17" lengthAdjust="spacingAndGlyphs">2</text>
<text x="253.40" y="436.70" font-size="6.0" text-anchor="middle" textLength="3.17" lengthAdjust="spacingAndGlyphs">2</text>
<text x="45.50" y="443.20" font-size="5.8" text-anchor="end" textLength="17.09" lengthAdjust="spacingAndGlyphs">HCT43</text>
<text x="57.80" y="443.20" font-size="6.0" text-anchor="middle" textLength="9.51" lengthAdjust="spacingAndGlyphs">256</text>
<text x="77.36" y="443.20" font-size="6.0" text-anchor="middle" textLength="9.51" lengthAdjust="spacingAndGlyphs">256</text>
<text x="96.92" y="443.20" font-size="6.0" text-anchor="middle" textLength="9.51" lengthAdjust="spacingAndGlyphs">224</text>
<text x="116.48" y="443.20" font-size="6.0" text-anchor="middle" textLength="9.51" lengthAdjust="spacingAndGlyphs">183</text>
<text x="136.04" y="443.20" font-size="6.0" text-anchor="middle" textLength="9.51" lengthAdjust="spacingAndGlyphs">138</text>
<text x="155.60" y="443.20" font-size="6.0" text-anchor="middle" textLength="6.34" lengthAdjust="spacingAndGlyphs">97</text>
<text x="175.16" y="443.20" font-size="6.0" text-anchor="middle" textLength="6.34" lengthAdjust="spacingAndGlyphs">77</text>
<text x="194.72" y="443.20" font-size="6.0" text-anchor="middle" textLength="6.34" lengthAdjust="spacingAndGlyphs">54</text>
<text x="214.28" y="443.20" font-size="6.0" text-anchor="middle" textLength="6.34" lengthAdjust="spacingAndGlyphs">28</text>
<text x="233.84" y="443.20" font-size="6.0" text-anchor="middle" textLength="6.34" lengthAdjust="spacingAndGlyphs">18</text>
<text x="253.40" y="443.20" font-size="6.0" text-anchor="middle" textLength="6.34" lengthAdjust="spacingAndGlyphs">14</text>
<text x="45.50" y="449.70" font-size="5.8" text-anchor="end" textLength="17.09" lengthAdjust="spacingAndGlyphs">HCT47</text>
<text x="57.80" y="449.70" font-size="6.0" text-anchor="middle" textLength="6.34" lengthAdjust="spacingAndGlyphs">93</text>
<text x="77.36" y="449.70" font-size="6.0" text-anchor="middle" textLength="6.34" lengthAdjust="spacingAndGlyphs">93</text>
<text x="96.92" y="449.70" font-size="6.0" text-anchor="middle" textLength="6.34" lengthAdjust="spacingAndGlyphs">74</text>
<text x="116.48" y="449.70" font-size="6.0" text-anchor="middle" textLength="6.34" lengthAdjust="spacingAndGlyphs">56</text>
<text x="136.04" y="449.70" font-size="6.0" text-anchor="middle" textLength="6.34" lengthAdjust="spacingAndGlyphs">39</text>
<text x="155.60" y="449.70" font-size="6.0" text-anchor="middle" textLength="6.34" lengthAdjust="spacingAndGlyphs">26</text>
<text x="175.16" y="449.70" font-size="6.0" text-anchor="middle" textLength="6.34" lengthAdjust="spacingAndGlyphs">14</text>
<text x="194.72" y="449.70" font-size="6.0" text-anchor="middle" textLength="3.17" lengthAdjust="spacingAndGlyphs">8</text>
<text x="214.28" y="449.70" font-size="6.0" text-anchor="middle" textLength="3.17" lengthAdjust="spacingAndGlyphs">6</text>
<text x="233.84" y="449.70" font-size="6.0" text-anchor="middle" textLength="3.17" lengthAdjust="spacingAndGlyphs">4</text>
<text x="253.40" y="449.70" font-size="6.0" text-anchor="middle" textLength="3.17" lengthAdjust="spacingAndGlyphs">2</text>
<text x="0" y="0" font-size="7.1" text-anchor="middle" textLength="85.00" lengthAdjust="spacingAndGlyphs" transform="translate(30.40,331.00) rotate(-90)">Proportion with thrombosis</text>
<text x="108.90" y="274.30" font-size="5.5" text-anchor="middle" font-weight="bold" textLength="25.50" lengthAdjust="spacingAndGlyphs">Trajectory</text>
<text x="133.50" y="274.30" font-size="5.5" text-anchor="middle" font-weight="bold" textLength="16.20" lengthAdjust="spacingAndGlyphs">Group</text>
<text x="161.30" y="274.30" font-size="5.5" text-anchor="middle" font-weight="bold" textLength="32.40" lengthAdjust="spacingAndGlyphs">Events/Total</text>
<text x="194.50" y="274.30" font-size="5.5" text-anchor="middle" font-weight="bold" textLength="28.10" lengthAdjust="spacingAndGlyphs">Time-Point</text>
<text x="235.90" y="274.30" font-size="5.5" text-anchor="middle" font-weight="bold" textLength="47.80" lengthAdjust="spacingAndGlyphs">1-KM Est (95% CI)</text>
<line x1="77.70" y1="285.20" x2="92.30" y2="285.20" stroke="#6b4c9a" stroke-width="1.0"/>
<text x="133.50" y="283.60" font-size="6.2" text-anchor="middle" textLength="17.68" lengthAdjust="spacingAndGlyphs" fill="#262626">HCT35</text>
<text x="161.30" y="283.60" font-size="6.2" text-anchor="middle" textLength="10.86" lengthAdjust="spacingAndGlyphs" fill="#262626">3/28</text>
<text x="194.50" y="283.60" font-size="6.2" text-anchor="middle" textLength="29.16" lengthAdjust="spacingAndGlyphs" fill="#262626">120 months</text>
<text x="235.90" y="283.60" font-size="6.2" text-anchor="middle" textLength="39.71" lengthAdjust="spacingAndGlyphs" fill="#262626">0.23 (0.00-0.44)</text>
<line x1="77.70" y1="293.30" x2="92.30" y2="293.30" stroke="#c8103a" stroke-width="1.0"/>
<text x="133.50" y="292.70" font-size="6.2" text-anchor="middle" textLength="17.68" lengthAdjust="spacingAndGlyphs" fill="#262626">HCT43</text>
<text x="161.30" y="292.70" font-size="6.2" text-anchor="middle" textLength="17.07" lengthAdjust="spacingAndGlyphs" fill="#262626">18/256</text>
<text x="194.50" y="292.70" font-size="6.2" text-anchor="middle" textLength="29.16" lengthAdjust="spacingAndGlyphs" fill="#262626">120 months</text>
<text x="235.90" y="292.70" font-size="6.2" text-anchor="middle" textLength="39.71" lengthAdjust="spacingAndGlyphs" fill="#262626">0.15 (0.02-0.26)</text>
<line x1="77.70" y1="301.50" x2="92.30" y2="301.50" stroke="#3e5fa3" stroke-width="1.0"/>
<text x="133.50" y="301.70" font-size="6.2" text-anchor="middle" textLength="17.68" lengthAdjust="spacingAndGlyphs" fill="#262626">HCT47</text>
<text x="161.30" y="301.70" font-size="6.2" text-anchor="middle" textLength="13.96" lengthAdjust="spacingAndGlyphs" fill="#262626">13/93</text>
<text x="194.50" y="301.70" font-size="6.2" text-anchor="middle" textLength="29.16" lengthAdjust="spacingAndGlyphs" fill="#262626">120 months</text>
<text x="235.90" y="301.70" font-size="6.2" text-anchor="middle" textLength="39.71" lengthAdjust="spacingAndGlyphs" fill="#262626">0.25 (0.07-0.39)</text>
<text x="96.20" y="311.00" font-size="6.2" textLength="60.13" lengthAdjust="spacingAndGlyphs" fill="#262626">Logrank P-value: 0.0473</text>
<text x="260.00" y="310.80" font-size="6.2" text-anchor="end" textLength="22.80" lengthAdjust="spacingAndGlyphs" fill="#262626">+ Censor</text>
<path d="M57.80,389.30H110.30V382.20H114.30V375.20H165.40V362.20H253.40V362.20" fill="none" stroke="#6b4c9a" stroke-width="1.15" stroke-opacity="1.0"/>
<path d="M130.00,374.10V376.30M140.00,374.10V376.30M150.00,374.10V376.30M185.00,361.10V363.30M200.00,361.10V363.30M215.00,361.10V363.30M230.00,361.10V363.30M245.00,361.10V363.30" fill="none" stroke="#6b4c9a" stroke-width="0.7" stroke-opacity="1.0"/>
<path d="M58.50,389.20H82.40V388.70H89.00V388.20H97.20V387.30H100.00V386.20H103.00V385.20H106.00V384.40H110.00V383.60H114.60V382.50H121.50V381.90H127.30V381.30H130.20V380.80H150.40V378.50H248.00V371.90H253.00V371.90" fill="none" stroke="#c8103a" stroke-width="1.15" stroke-opacity="1.0"/>
<path d="M135.00,379.70V381.90M140.00,379.70V381.90M145.00,379.70V381.90M160.00,377.40V379.60M170.00,377.40V379.60M180.00,377.40V379.60M190.00,377.40V379.60M200.00,377.40V379.60M210.00,377.40V379.60M220.00,377.40V379.60M230.00,377.40V379.60M240.00,377.40V379.60" fill="none" stroke="#c8103a" stroke-width="0.7" stroke-opacity="1.0"/>
<path d="M58.50,389.20H87.80V386.60H89.80V384.60H92.50V382.60H95.00V381.60H102.60V380.30H105.30V379.20H107.30V378.50H122.10V376.70H125.00V375.60H127.30V374.80H133.70V372.30H157.30V368.60H178.10V360.40H253.10V360.40" fill="none" stroke="#3e5fa3" stroke-width="1.15" stroke-opacity="1.0"/>
<path d="M110.00,377.40V379.60M115.00,377.40V379.60M140.00,371.20V373.40M145.00,371.20V373.40M150.00,371.20V373.40M165.00,367.50V369.70M172.00,367.50V369.70M190.00,359.30V361.50M205.00,359.30V361.50M220.00,359.30V361.50M235.00,359.30V361.50M250.00,359.30V361.50" fill="none" stroke="#3e5fa3" stroke-width="0.7" stroke-opacity="1.0"/>
<path d="M302.60,270.90V391.85H511.00" fill="none" stroke="#000" stroke-width="1.25"/>
<line x1="299.40" y1="389.50" x2="302.60" y2="389.50" stroke="#000" stroke-width="0.9"/>
<text x="296.00" y="391.80" font-size="6.6" text-anchor="end" fill="#2a2a2a">0.0</text>
<line x1="299.40" y1="377.90" x2="302.60" y2="377.90" stroke="#000" stroke-width="0.9"/>
<text x="296.00" y="380.20" font-size="6.6" text-anchor="end" fill="#2a2a2a">0.1</text>
<line x1="299.40" y1="366.30" x2="302.60" y2="366.30" stroke="#000" stroke-width="0.9"/>
<text x="296.00" y="368.60" font-size="6.6" text-anchor="end" fill="#2a2a2a">0.2</text>
<line x1="299.40" y1="354.70" x2="302.60" y2="354.70" stroke="#000" stroke-width="0.9"/>
<text x="296.00" y="357.00" font-size="6.6" text-anchor="end" fill="#2a2a2a">0.3</text>
<line x1="299.40" y1="343.10" x2="302.60" y2="343.10" stroke="#000" stroke-width="0.9"/>
<text x="296.00" y="345.40" font-size="6.6" text-anchor="end" fill="#2a2a2a">0.4</text>
<line x1="299.40" y1="331.50" x2="302.60" y2="331.50" stroke="#000" stroke-width="0.9"/>
<text x="296.00" y="333.80" font-size="6.6" text-anchor="end" fill="#2a2a2a">0.5</text>
<line x1="299.40" y1="319.90" x2="302.60" y2="319.90" stroke="#000" stroke-width="0.9"/>
<text x="296.00" y="322.20" font-size="6.6" text-anchor="end" fill="#2a2a2a">0.6</text>
<line x1="299.40" y1="308.30" x2="302.60" y2="308.30" stroke="#000" stroke-width="0.9"/>
<text x="296.00" y="310.60" font-size="6.6" text-anchor="end" fill="#2a2a2a">0.7</text>
<line x1="299.40" y1="296.70" x2="302.60" y2="296.70" stroke="#000" stroke-width="0.9"/>
<text x="296.00" y="299.00" font-size="6.6" text-anchor="end" fill="#2a2a2a">0.8</text>
<line x1="299.40" y1="285.10" x2="302.60" y2="285.10" stroke="#000" stroke-width="0.9"/>
<text x="296.00" y="287.40" font-size="6.6" text-anchor="end" fill="#2a2a2a">0.9</text>
<line x1="299.40" y1="273.50" x2="302.60" y2="273.50" stroke="#000" stroke-width="0.9"/>
<text x="296.00" y="275.80" font-size="6.6" text-anchor="end" fill="#2a2a2a">1.0</text>
<line x1="308.60" y1="391.85" x2="308.60" y2="394.85" stroke="#000" stroke-width="0.9"/>
<text x="308.60" y="403.90" font-size="6.9" text-anchor="middle" textLength="3.80" lengthAdjust="spacingAndGlyphs" fill="#222">0</text>
<line x1="336.81" y1="391.85" x2="336.81" y2="394.85" stroke="#000" stroke-width="0.9"/>
<text x="336.81" y="403.90" font-size="6.9" text-anchor="middle" textLength="7.60" lengthAdjust="spacingAndGlyphs" fill="#222">12</text>
<line x1="365.03" y1="391.85" x2="365.03" y2="394.85" stroke="#000" stroke-width="0.9"/>
<text x="365.03" y="403.90" font-size="6.9" text-anchor="middle" textLength="7.60" lengthAdjust="spacingAndGlyphs" fill="#222">24</text>
<line x1="393.24" y1="391.85" x2="393.24" y2="394.85" stroke="#000" stroke-width="0.9"/>
<text x="393.24" y="403.90" font-size="6.9" text-anchor="middle" textLength="7.60" lengthAdjust="spacingAndGlyphs" fill="#222">36</text>
<line x1="421.46" y1="391.85" x2="421.46" y2="394.85" stroke="#000" stroke-width="0.9"/>
<text x="421.46" y="403.90" font-size="6.9" text-anchor="middle" textLength="7.60" lengthAdjust="spacingAndGlyphs" fill="#222">48</text>
<line x1="449.67" y1="391.85" x2="449.67" y2="394.85" stroke="#000" stroke-width="0.9"/>
<text x="449.67" y="403.90" font-size="6.9" text-anchor="middle" textLength="7.60" lengthAdjust="spacingAndGlyphs" fill="#222">60</text>
<line x1="477.89" y1="391.85" x2="477.89" y2="394.85" stroke="#000" stroke-width="0.9"/>
<text x="477.89" y="403.90" font-size="6.9" text-anchor="middle" textLength="7.60" lengthAdjust="spacingAndGlyphs" fill="#222">72</text>
<line x1="506.10" y1="391.85" x2="506.10" y2="394.85" stroke="#000" stroke-width="0.9"/>
<text x="506.10" y="403.90" font-size="6.9" text-anchor="middle" textLength="7.60" lengthAdjust="spacingAndGlyphs" fill="#222">84</text>
<text x="406.00" y="416.60" font-size="9.2" text-anchor="middle" textLength="73.00" lengthAdjust="spacingAndGlyphs">Months from index visit</text>
<text x="406.00" y="428.20" font-size="6.6" text-anchor="middle" textLength="45.60" lengthAdjust="spacingAndGlyphs">Patients-at-Risk</text>
<text x="296.40" y="436.50" font-size="5.8" text-anchor="end" textLength="17.09" lengthAdjust="spacingAndGlyphs">HCT35</text>
<text x="308.60" y="436.50" font-size="6.0" text-anchor="middle" textLength="6.34" lengthAdjust="spacingAndGlyphs">21</text>
<text x="336.81" y="436.50" font-size="6.0" text-anchor="middle" textLength="6.34" lengthAdjust="spacingAndGlyphs">21</text>
<text x="365.03" y="436.50" font-size="6.0" text-anchor="middle" textLength="6.34" lengthAdjust="spacingAndGlyphs">18</text>
<text x="393.24" y="436.50" font-size="6.0" text-anchor="middle" textLength="6.34" lengthAdjust="spacingAndGlyphs">14</text>
<text x="421.46" y="436.50" font-size="6.0" text-anchor="middle" textLength="6.34" lengthAdjust="spacingAndGlyphs">12</text>
<text x="449.67" y="436.50" font-size="6.0" text-anchor="middle" textLength="3.17" lengthAdjust="spacingAndGlyphs">9</text>
<text x="477.89" y="436.50" font-size="6.0" text-anchor="middle" textLength="3.17" lengthAdjust="spacingAndGlyphs">6</text>
<text x="506.10" y="436.50" font-size="6.0" text-anchor="middle" textLength="3.17" lengthAdjust="spacingAndGlyphs">4</text>
<text x="296.40" y="443.00" font-size="5.8" text-anchor="end" textLength="17.09" lengthAdjust="spacingAndGlyphs">HCT43</text>
<text x="308.60" y="443.00" font-size="6.0" text-anchor="middle" textLength="9.51" lengthAdjust="spacingAndGlyphs">261</text>
<text x="336.81" y="443.00" font-size="6.0" text-anchor="middle" textLength="9.51" lengthAdjust="spacingAndGlyphs">261</text>
<text x="365.03" y="443.00" font-size="6.0" text-anchor="middle" textLength="9.51" lengthAdjust="spacingAndGlyphs">224</text>
<text x="393.24" y="443.00" font-size="6.0" text-anchor="middle" textLength="9.51" lengthAdjust="spacingAndGlyphs">186</text>
<text x="421.46" y="443.00" font-size="6.0" text-anchor="middle" textLength="9.51" lengthAdjust="spacingAndGlyphs">134</text>
<text x="449.67" y="443.00" font-size="6.0" text-anchor="middle" textLength="6.34" lengthAdjust="spacingAndGlyphs">98</text>
<text x="477.89" y="443.00" font-size="6.0" text-anchor="middle" textLength="6.34" lengthAdjust="spacingAndGlyphs">73</text>
<text x="506.10" y="443.00" font-size="6.0" text-anchor="middle" textLength="6.34" lengthAdjust="spacingAndGlyphs">47</text>
<text x="296.40" y="449.60" font-size="5.8" text-anchor="end" textLength="17.09" lengthAdjust="spacingAndGlyphs">HCT47</text>
<text x="308.60" y="449.60" font-size="6.0" text-anchor="middle" textLength="6.34" lengthAdjust="spacingAndGlyphs">96</text>
<text x="336.81" y="449.60" font-size="6.0" text-anchor="middle" textLength="6.34" lengthAdjust="spacingAndGlyphs">96</text>
<text x="365.03" y="449.60" font-size="6.0" text-anchor="middle" textLength="6.34" lengthAdjust="spacingAndGlyphs">82</text>
<text x="393.24" y="449.60" font-size="6.0" text-anchor="middle" textLength="6.34" lengthAdjust="spacingAndGlyphs">63</text>
<text x="421.46" y="449.60" font-size="6.0" text-anchor="middle" textLength="6.34" lengthAdjust="spacingAndGlyphs">44</text>
<text x="449.67" y="449.60" font-size="6.0" text-anchor="middle" textLength="6.34" lengthAdjust="spacingAndGlyphs">31</text>
<text x="477.89" y="449.60" font-size="6.0" text-anchor="middle" textLength="6.34" lengthAdjust="spacingAndGlyphs">19</text>
<text x="506.10" y="449.60" font-size="6.0" text-anchor="middle" textLength="5.92" lengthAdjust="spacingAndGlyphs">11</text>
<text x="0" y="0" font-size="7.1" text-anchor="middle" textLength="85.00" lengthAdjust="spacingAndGlyphs" transform="translate(281.60,331.00) rotate(-90)">Proportion with thrombosis</text>
<text x="361.60" y="275.00" font-size="5.5" text-anchor="middle" font-weight="bold" textLength="25.60" lengthAdjust="spacingAndGlyphs">Trajectory</text>
<text x="386.20" y="275.00" font-size="5.5" text-anchor="middle" font-weight="bold" textLength="16.90" lengthAdjust="spacingAndGlyphs">Group</text>
<text x="414.30" y="275.00" font-size="5.5" text-anchor="middle" font-weight="bold" textLength="33.00" lengthAdjust="spacingAndGlyphs">Events/Total</text>
<text x="447.90" y="275.00" font-size="5.5" text-anchor="middle" font-weight="bold" textLength="28.10" lengthAdjust="spacingAndGlyphs">Time-Point</text>
<text x="488.70" y="275.00" font-size="5.5" text-anchor="middle" font-weight="bold" textLength="48.00" lengthAdjust="spacingAndGlyphs">1-KM Est (95% CI)</text>
<line x1="330.60" y1="285.20" x2="345.00" y2="285.20" stroke="#6b4c9a" stroke-width="1.0"/>
<text x="386.20" y="283.60" font-size="6.2" text-anchor="middle" textLength="17.68" lengthAdjust="spacingAndGlyphs" fill="#262626">HCT35</text>
<text x="414.30" y="283.60" font-size="6.2" text-anchor="middle" textLength="10.86" lengthAdjust="spacingAndGlyphs" fill="#262626">1/21</text>
<text x="447.90" y="283.60" font-size="6.2" text-anchor="middle" textLength="26.06" lengthAdjust="spacingAndGlyphs" fill="#262626">84 months</text>
<text x="488.70" y="283.60" font-size="6.2" text-anchor="middle" textLength="39.29" lengthAdjust="spacingAndGlyphs" fill="#262626">0.11 (0.00-0.29)</text>
<line x1="330.60" y1="293.50" x2="345.00" y2="293.50" stroke="#c8103a" stroke-width="1.0"/>
<text x="386.20" y="292.80" font-size="6.2" text-anchor="middle" textLength="17.68" lengthAdjust="spacingAndGlyphs" fill="#262626">HCT43</text>
<text x="414.30" y="292.80" font-size="6.2" text-anchor="middle" textLength="17.07" lengthAdjust="spacingAndGlyphs" fill="#262626">29/261</text>
<text x="447.90" y="292.80" font-size="6.2" text-anchor="middle" textLength="26.06" lengthAdjust="spacingAndGlyphs" fill="#262626">84 months</text>
<text x="488.70" y="292.80" font-size="6.2" text-anchor="middle" textLength="39.71" lengthAdjust="spacingAndGlyphs" fill="#262626">0.20 (0.12-0.27)</text>
<line x1="330.60" y1="301.50" x2="345.00" y2="301.50" stroke="#3e5fa3" stroke-width="1.0"/>
<text x="386.20" y="301.80" font-size="6.2" text-anchor="middle" textLength="17.68" lengthAdjust="spacingAndGlyphs" fill="#262626">HCT47</text>
<text x="414.30" y="301.80" font-size="6.2" text-anchor="middle" textLength="10.86" lengthAdjust="spacingAndGlyphs" fill="#262626">6/96</text>
<text x="447.90" y="301.80" font-size="6.2" text-anchor="middle" textLength="26.06" lengthAdjust="spacingAndGlyphs" fill="#262626">84 months</text>
<text x="488.70" y="301.80" font-size="6.2" text-anchor="middle" textLength="39.71" lengthAdjust="spacingAndGlyphs" fill="#262626">0.05 (0.00-0.12)</text>
<text x="348.80" y="311.20" font-size="6.2" textLength="60.13" lengthAdjust="spacingAndGlyphs" fill="#262626">Logrank P-value: 0.4781</text>
<text x="512.70" y="311.00" font-size="6.2" text-anchor="end" textLength="22.80" lengthAdjust="spacingAndGlyphs" fill="#262626">+ Censor</text>
<path d="M412.50,389.20H450.10V376.60H506.60V376.60" fill="none" stroke="#6b4c9a" stroke-width="1.15" stroke-opacity="1.0"/>
<path d="M470.00,375.50V377.70M480.00,375.50V377.70M495.00,375.50V377.70" fill="none" stroke="#6b4c9a" stroke-width="0.7" stroke-opacity="1.0"/>
<path d="M308.80,389.50H412.50V387.30H450.10V383.80H506.60V383.80" fill="none" stroke="#3e5fa3" stroke-width="1.15" stroke-opacity="1.0"/>
<path d="M340.00,388.40V390.60M350.00,388.40V390.60M360.00,388.40V390.60M370.00,388.40V390.60M380.00,388.40V390.60M385.00,388.40V390.60M390.00,388.40V390.60M395.00,388.40V390.60M400.00,388.40V390.60M420.00,386.20V388.40M425.00,386.20V388.40M430.00,386.20V388.40M440.00,386.20V388.40M460.00,382.70V384.90M470.00,382.70V384.90M480.00,382.70V384.90M490.00,382.70V384.90M500.00,382.70V384.90" fill="none" stroke="#3e5fa3" stroke-width="0.7" stroke-opacity="1.0"/>
<path d="M341.30,389.20H346.00V388.80H352.00V388.30H360.00V387.90H372.00V387.30H378.00V386.40H382.00V385.60H390.00V385.00H397.00V384.30H401.00V383.40H405.00V382.40H418.00V381.30H425.00V380.30H430.00V379.50H438.00V378.10H447.90V376.90H456.60V373.50H478.20V370.50H480.50V368.30H503.50V366.30H506.60V366.30" fill="none" stroke="#c8103a" stroke-width="1.15" stroke-opacity="1.0"/>
<path d="M350.00,387.70V389.90M365.00,386.80V389.00M375.00,386.20V388.40M390.00,383.90V386.10M410.00,381.30V383.50M415.00,381.30V383.50M440.00,377.00V379.20M445.00,377.00V379.20M465.00,372.40V374.60M470.00,372.40V374.60M490.00,367.20V369.40M495.00,367.20V369.40" fill="none" stroke="#c8103a" stroke-width="0.7" stroke-opacity="1.0"/>
<path d="M51.60,484.90V606.20H257.80" fill="none" stroke="#000" stroke-width="1.25"/>
<line x1="48.40" y1="603.90" x2="51.60" y2="603.90" stroke="#000" stroke-width="0.9"/>
<text x="45.00" y="606.20" font-size="6.6" text-anchor="end" fill="#2a2a2a">0.0</text>
<line x1="48.40" y1="592.26" x2="51.60" y2="592.26" stroke="#000" stroke-width="0.9"/>
<text x="45.00" y="594.56" font-size="6.6" text-anchor="end" fill="#2a2a2a">0.1</text>
<line x1="48.40" y1="580.62" x2="51.60" y2="580.62" stroke="#000" stroke-width="0.9"/>
<text x="45.00" y="582.92" font-size="6.6" text-anchor="end" fill="#2a2a2a">0.2</text>
<line x1="48.40" y1="568.98" x2="51.60" y2="568.98" stroke="#000" stroke-width="0.9"/>
<text x="45.00" y="571.28" font-size="6.6" text-anchor="end" fill="#2a2a2a">0.3</text>
<line x1="48.40" y1="557.34" x2="51.60" y2="557.34" stroke="#000" stroke-width="0.9"/>
<text x="45.00" y="559.64" font-size="6.6" text-anchor="end" fill="#2a2a2a">0.4</text>
<line x1="48.40" y1="545.70" x2="51.60" y2="545.70" stroke="#000" stroke-width="0.9"/>
<text x="45.00" y="548.00" font-size="6.6" text-anchor="end" fill="#2a2a2a">0.5</text>
<line x1="48.40" y1="534.06" x2="51.60" y2="534.06" stroke="#000" stroke-width="0.9"/>
<text x="45.00" y="536.36" font-size="6.6" text-anchor="end" fill="#2a2a2a">0.6</text>
<line x1="48.40" y1="522.42" x2="51.60" y2="522.42" stroke="#000" stroke-width="0.9"/>
<text x="45.00" y="524.72" font-size="6.6" text-anchor="end" fill="#2a2a2a">0.7</text>
<line x1="48.40" y1="510.78" x2="51.60" y2="510.78" stroke="#000" stroke-width="0.9"/>
<text x="45.00" y="513.08" font-size="6.6" text-anchor="end" fill="#2a2a2a">0.8</text>
<line x1="48.40" y1="499.14" x2="51.60" y2="499.14" stroke="#000" stroke-width="0.9"/>
<text x="45.00" y="501.44" font-size="6.6" text-anchor="end" fill="#2a2a2a">0.9</text>
<line x1="48.40" y1="487.50" x2="51.60" y2="487.50" stroke="#000" stroke-width="0.9"/>
<text x="45.00" y="489.80" font-size="6.6" text-anchor="end" fill="#2a2a2a">1.0</text>
<line x1="58.40" y1="606.20" x2="58.40" y2="609.20" stroke="#000" stroke-width="0.9"/>
<text x="58.40" y="618.60" font-size="6.9" text-anchor="middle" textLength="3.80" lengthAdjust="spacingAndGlyphs" fill="#222">0</text>
<line x1="77.71" y1="606.20" x2="77.71" y2="609.20" stroke="#000" stroke-width="0.9"/>
<text x="77.71" y="618.60" font-size="6.9" text-anchor="middle" textLength="7.60" lengthAdjust="spacingAndGlyphs" fill="#222">12</text>
<line x1="97.02" y1="606.20" x2="97.02" y2="609.20" stroke="#000" stroke-width="0.9"/>
<text x="97.02" y="618.60" font-size="6.9" text-anchor="middle" textLength="7.60" lengthAdjust="spacingAndGlyphs" fill="#222">24</text>
<line x1="116.33" y1="606.20" x2="116.33" y2="609.20" stroke="#000" stroke-width="0.9"/>
<text x="116.33" y="618.60" font-size="6.9" text-anchor="middle" textLength="7.60" lengthAdjust="spacingAndGlyphs" fill="#222">36</text>
<line x1="135.64" y1="606.20" x2="135.64" y2="609.20" stroke="#000" stroke-width="0.9"/>
<text x="135.64" y="618.60" font-size="6.9" text-anchor="middle" textLength="7.60" lengthAdjust="spacingAndGlyphs" fill="#222">48</text>
<line x1="154.95" y1="606.20" x2="154.95" y2="609.20" stroke="#000" stroke-width="0.9"/>
<text x="154.95" y="618.60" font-size="6.9" text-anchor="middle" textLength="7.60" lengthAdjust="spacingAndGlyphs" fill="#222">60</text>
<line x1="174.26" y1="606.20" x2="174.26" y2="609.20" stroke="#000" stroke-width="0.9"/>
<text x="174.26" y="618.60" font-size="6.9" text-anchor="middle" textLength="7.60" lengthAdjust="spacingAndGlyphs" fill="#222">72</text>
<line x1="193.57" y1="606.20" x2="193.57" y2="609.20" stroke="#000" stroke-width="0.9"/>
<text x="193.57" y="618.60" font-size="6.9" text-anchor="middle" textLength="7.60" lengthAdjust="spacingAndGlyphs" fill="#222">84</text>
<line x1="212.88" y1="606.20" x2="212.88" y2="609.20" stroke="#000" stroke-width="0.9"/>
<text x="212.88" y="618.60" font-size="6.9" text-anchor="middle" textLength="7.60" lengthAdjust="spacingAndGlyphs" fill="#222">96</text>
<line x1="232.19" y1="606.20" x2="232.19" y2="609.20" stroke="#000" stroke-width="0.9"/>
<text x="232.19" y="618.60" font-size="6.9" text-anchor="middle" textLength="11.40" lengthAdjust="spacingAndGlyphs" fill="#222">108</text>
<line x1="251.50" y1="606.20" x2="251.50" y2="609.20" stroke="#000" stroke-width="0.9"/>
<text x="251.50" y="618.60" font-size="6.9" text-anchor="middle" textLength="11.40" lengthAdjust="spacingAndGlyphs" fill="#222">120</text>
<text x="154.95" y="631.00" font-size="9.2" text-anchor="middle" textLength="73.00" lengthAdjust="spacingAndGlyphs">Months from index visit</text>
<text x="154.95" y="642.70" font-size="6.6" text-anchor="middle" textLength="45.60" lengthAdjust="spacingAndGlyphs">Patients-at-Risk</text>
<text x="45.50" y="651.00" font-size="5.8" text-anchor="end" textLength="18.49" lengthAdjust="spacingAndGlyphs">PLT125</text>
<text x="58.40" y="651.00" font-size="6.0" text-anchor="middle" textLength="6.34" lengthAdjust="spacingAndGlyphs">32</text>
<text x="77.71" y="651.00" font-size="6.0" text-anchor="middle" textLength="6.34" lengthAdjust="spacingAndGlyphs">32</text>
<text x="97.02" y="651.00" font-size="6.0" text-anchor="middle" textLength="6.34" lengthAdjust="spacingAndGlyphs">28</text>
<text x="116.33" y="651.00" font-size="6.0" text-anchor="middle" textLength="6.34" lengthAdjust="spacingAndGlyphs">18</text>
<text x="135.64" y="651.00" font-size="6.0" text-anchor="middle" textLength="6.34" lengthAdjust="spacingAndGlyphs">14</text>
<text x="154.95" y="651.00" font-size="6.0" text-anchor="middle" textLength="6.34" lengthAdjust="spacingAndGlyphs">10</text>
<text x="174.26" y="651.00" font-size="6.0" text-anchor="middle" textLength="3.17" lengthAdjust="spacingAndGlyphs">8</text>
<text x="193.57" y="651.00" font-size="6.0" text-anchor="middle" textLength="3.17" lengthAdjust="spacingAndGlyphs">3</text>
<text x="212.88" y="651.00" font-size="6.0" text-anchor="middle" textLength="3.17" lengthAdjust="spacingAndGlyphs">0</text>
<text x="45.50" y="657.60" font-size="5.8" text-anchor="end" textLength="18.49" lengthAdjust="spacingAndGlyphs">PLT300</text>
<text x="58.40" y="657.60" font-size="6.0" text-anchor="middle" textLength="9.51" lengthAdjust="spacingAndGlyphs">159</text>
<text x="77.71" y="657.60" font-size="6.0" text-anchor="middle" textLength="9.51" lengthAdjust="spacingAndGlyphs">159</text>
<text x="97.02" y="657.60" font-size="6.0" text-anchor="middle" textLength="9.51" lengthAdjust="spacingAndGlyphs">135</text>
<text x="116.33" y="657.60" font-size="6.0" text-anchor="middle" textLength="9.51" lengthAdjust="spacingAndGlyphs">103</text>
<text x="135.64" y="657.60" font-size="6.0" text-anchor="middle" textLength="6.34" lengthAdjust="spacingAndGlyphs">80</text>
<text x="154.95" y="657.60" font-size="6.0" text-anchor="middle" textLength="6.34" lengthAdjust="spacingAndGlyphs">55</text>
<text x="174.26" y="657.60" font-size="6.0" text-anchor="middle" textLength="6.34" lengthAdjust="spacingAndGlyphs">40</text>
<text x="193.57" y="657.60" font-size="6.0" text-anchor="middle" textLength="6.34" lengthAdjust="spacingAndGlyphs">28</text>
<text x="212.88" y="657.60" font-size="6.0" text-anchor="middle" textLength="6.34" lengthAdjust="spacingAndGlyphs">12</text>
<text x="232.19" y="657.60" font-size="6.0" text-anchor="middle" textLength="3.17" lengthAdjust="spacingAndGlyphs">6</text>
<text x="251.50" y="657.60" font-size="6.0" text-anchor="middle" textLength="3.17" lengthAdjust="spacingAndGlyphs">5</text>
<text x="45.50" y="664.20" font-size="5.8" text-anchor="end" textLength="18.49" lengthAdjust="spacingAndGlyphs">PLT600</text>
<text x="58.40" y="664.20" font-size="6.0" text-anchor="middle" textLength="9.51" lengthAdjust="spacingAndGlyphs">186</text>
<text x="77.71" y="664.20" font-size="6.0" text-anchor="middle" textLength="9.51" lengthAdjust="spacingAndGlyphs">186</text>
<text x="97.02" y="664.20" font-size="6.0" text-anchor="middle" textLength="9.51" lengthAdjust="spacingAndGlyphs">159</text>
<text x="116.33" y="664.20" font-size="6.0" text-anchor="middle" textLength="9.51" lengthAdjust="spacingAndGlyphs">131</text>
<text x="135.64" y="664.20" font-size="6.0" text-anchor="middle" textLength="6.34" lengthAdjust="spacingAndGlyphs">95</text>
<text x="154.95" y="664.20" font-size="6.0" text-anchor="middle" textLength="6.34" lengthAdjust="spacingAndGlyphs">68</text>
<text x="174.26" y="664.20" font-size="6.0" text-anchor="middle" textLength="6.34" lengthAdjust="spacingAndGlyphs">49</text>
<text x="193.57" y="664.20" font-size="6.0" text-anchor="middle" textLength="6.34" lengthAdjust="spacingAndGlyphs">35</text>
<text x="212.88" y="664.20" font-size="6.0" text-anchor="middle" textLength="6.34" lengthAdjust="spacingAndGlyphs">24</text>
<text x="232.19" y="664.20" font-size="6.0" text-anchor="middle" textLength="6.34" lengthAdjust="spacingAndGlyphs">18</text>
<text x="251.50" y="664.20" font-size="6.0" text-anchor="middle" textLength="6.34" lengthAdjust="spacingAndGlyphs">13</text>
<text x="0" y="0" font-size="7.1" text-anchor="middle" textLength="85.00" lengthAdjust="spacingAndGlyphs" transform="translate(30.40,545.00) rotate(-90)">Proportion with thrombosis</text>
<text x="106.70" y="488.60" font-size="5.5" text-anchor="middle" font-weight="bold" textLength="26.00" lengthAdjust="spacingAndGlyphs">Trajectory</text>
<text x="131.70" y="488.60" font-size="5.5" text-anchor="middle" font-weight="bold" textLength="16.00" lengthAdjust="spacingAndGlyphs">Group</text>
<text x="159.30" y="488.60" font-size="5.5" text-anchor="middle" font-weight="bold" textLength="33.00" lengthAdjust="spacingAndGlyphs">Events/Total</text>
<text x="192.90" y="488.60" font-size="5.5" text-anchor="middle" font-weight="bold" textLength="28.10" lengthAdjust="spacingAndGlyphs">Time-Point</text>
<text x="234.30" y="488.60" font-size="5.5" text-anchor="middle" font-weight="bold" textLength="47.80" lengthAdjust="spacingAndGlyphs">1-KM Est (95% CI)</text>
<line x1="75.70" y1="499.00" x2="90.20" y2="499.00" stroke="#6b4c9a" stroke-width="1.0"/>
<text x="131.70" y="497.50" font-size="6.2" text-anchor="middle" textLength="19.13" lengthAdjust="spacingAndGlyphs" fill="#262626">PLT125</text>
<text x="159.30" y="497.50" font-size="6.2" text-anchor="middle" textLength="10.86" lengthAdjust="spacingAndGlyphs" fill="#262626">3/32</text>
<text x="192.90" y="497.50" font-size="6.2" text-anchor="middle" textLength="29.16" lengthAdjust="spacingAndGlyphs" fill="#262626">120 months</text>
<text x="234.30" y="497.50" font-size="6.2" text-anchor="middle" textLength="30.38" lengthAdjust="spacingAndGlyphs" fill="#262626">NE (NE-NE)</text>
<line x1="75.70" y1="507.20" x2="90.20" y2="507.20" stroke="#c8103a" stroke-width="1.0"/>
<text x="131.70" y="506.60" font-size="6.2" text-anchor="middle" textLength="19.13" lengthAdjust="spacingAndGlyphs" fill="#262626">PLT300</text>
<text x="159.30" y="506.60" font-size="6.2" text-anchor="middle" textLength="17.07" lengthAdjust="spacingAndGlyphs" fill="#262626">15/159</text>
<text x="192.90" y="506.60" font-size="6.2" text-anchor="middle" textLength="29.16" lengthAdjust="spacingAndGlyphs" fill="#262626">120 months</text>
<text x="234.30" y="506.60" font-size="6.2" text-anchor="middle" textLength="39.71" lengthAdjust="spacingAndGlyphs" fill="#262626">0.14 (0.07-0.21)</text>
<line x1="75.70" y1="515.50" x2="90.20" y2="515.50" stroke="#3e5fa3" stroke-width="1.0"/>
<text x="131.70" y="515.80" font-size="6.2" text-anchor="middle" textLength="19.13" lengthAdjust="spacingAndGlyphs" fill="#262626">PLT600</text>
<text x="159.30" y="515.80" font-size="6.2" text-anchor="middle" textLength="17.07" lengthAdjust="spacingAndGlyphs" fill="#262626">16/186</text>
<text x="192.90" y="515.80" font-size="6.2" text-anchor="middle" textLength="29.16" lengthAdjust="spacingAndGlyphs" fill="#262626">120 months</text>
<text x="234.30" y="515.80" font-size="6.2" text-anchor="middle" textLength="39.71" lengthAdjust="spacingAndGlyphs" fill="#262626">0.18 (0.04-0.31)</text>
<text x="93.70" y="525.00" font-size="6.2" textLength="60.13" lengthAdjust="spacingAndGlyphs" fill="#262626">Logrank P-value: 0.7645</text>
<text x="258.20" y="524.40" font-size="6.2" text-anchor="end" textLength="22.80" lengthAdjust="spacingAndGlyphs" fill="#262626">+ Censor</text>
<path d="M58.50,604.00H86.90V599.80H101.10V594.80H107.50V589.70H213.00V589.70" fill="none" stroke="#6b4c9a" stroke-width="1.15" stroke-opacity="1.0"/>
<path d="M120.00,588.60V590.80M135.00,588.60V590.80M150.00,588.60V590.80M165.00,588.60V590.80M180.00,588.60V590.80M195.00,588.60V590.80" fill="none" stroke="#6b4c9a" stroke-width="0.7" stroke-opacity="1.0"/>
<path d="M58.50,603.90H82.00V603.50H90.00V603.00H95.00V602.20H100.00V600.90H105.00V599.50H110.00V598.20H125.30V597.50H127.30V596.20H130.00V594.80H148.80V593.50H156.90V591.80H176.50V589.80H246.20V582.30H252.00V582.30" fill="none" stroke="#3e5fa3" stroke-width="1.15" stroke-opacity="1.0"/>
<path d="M140.00,593.70V595.90M145.00,593.70V595.90M165.00,590.70V592.90M190.00,588.70V590.90M200.00,588.70V590.90M210.00,588.70V590.90M220.00,588.70V590.90M230.00,588.70V590.90" fill="none" stroke="#3e5fa3" stroke-width="0.7" stroke-opacity="1.0"/>
<path d="M78.50,604.00H80.00V602.60H90.00V601.80H95.00V601.50H100.40V600.20H105.10V598.80H111.20V597.50H114.50V594.80H117.20V593.50H123.30V592.40H134.00V591.00H148.80V590.10H164.20V587.40H252.00V587.40" fill="none" stroke="#c8103a" stroke-width="1.15" stroke-opacity="1.0"/>
<path d="M170.00,586.30V588.50M175.00,586.30V588.50M180.00,586.30V588.50M190.00,586.30V588.50M200.00,586.30V588.50M210.00,586.30V588.50M215.00,586.30V588.50M225.00,586.30V588.50M235.00,586.30V588.50M245.00,586.30V588.50" fill="none" stroke="#c8103a" stroke-width="0.7" stroke-opacity="1.0"/>
<path d="M302.60,484.60V606.20H509.50" fill="none" stroke="#000" stroke-width="1.25"/>
<line x1="299.40" y1="603.90" x2="302.60" y2="603.90" stroke="#000" stroke-width="0.9"/>
<text x="296.00" y="606.20" font-size="6.6" text-anchor="end" fill="#2a2a2a">0.0</text>
<line x1="299.40" y1="592.23" x2="302.60" y2="592.23" stroke="#000" stroke-width="0.9"/>
<text x="296.00" y="594.53" font-size="6.6" text-anchor="end" fill="#2a2a2a">0.1</text>
<line x1="299.40" y1="580.56" x2="302.60" y2="580.56" stroke="#000" stroke-width="0.9"/>
<text x="296.00" y="582.86" font-size="6.6" text-anchor="end" fill="#2a2a2a">0.2</text>
<line x1="299.40" y1="568.89" x2="302.60" y2="568.89" stroke="#000" stroke-width="0.9"/>
<text x="296.00" y="571.19" font-size="6.6" text-anchor="end" fill="#2a2a2a">0.3</text>
<line x1="299.40" y1="557.22" x2="302.60" y2="557.22" stroke="#000" stroke-width="0.9"/>
<text x="296.00" y="559.52" font-size="6.6" text-anchor="end" fill="#2a2a2a">0.4</text>
<line x1="299.40" y1="545.55" x2="302.60" y2="545.55" stroke="#000" stroke-width="0.9"/>
<text x="296.00" y="547.85" font-size="6.6" text-anchor="end" fill="#2a2a2a">0.5</text>
<line x1="299.40" y1="533.88" x2="302.60" y2="533.88" stroke="#000" stroke-width="0.9"/>
<text x="296.00" y="536.18" font-size="6.6" text-anchor="end" fill="#2a2a2a">0.6</text>
<line x1="299.40" y1="522.21" x2="302.60" y2="522.21" stroke="#000" stroke-width="0.9"/>
<text x="296.00" y="524.51" font-size="6.6" text-anchor="end" fill="#2a2a2a">0.7</text>
<line x1="299.40" y1="510.54" x2="302.60" y2="510.54" stroke="#000" stroke-width="0.9"/>
<text x="296.00" y="512.84" font-size="6.6" text-anchor="end" fill="#2a2a2a">0.8</text>
<line x1="299.40" y1="498.87" x2="302.60" y2="498.87" stroke="#000" stroke-width="0.9"/>
<text x="296.00" y="501.17" font-size="6.6" text-anchor="end" fill="#2a2a2a">0.9</text>
<line x1="299.40" y1="487.20" x2="302.60" y2="487.20" stroke="#000" stroke-width="0.9"/>
<text x="296.00" y="489.50" font-size="6.6" text-anchor="end" fill="#2a2a2a">1.0</text>
<line x1="309.40" y1="606.20" x2="309.40" y2="609.20" stroke="#000" stroke-width="0.9"/>
<text x="309.40" y="618.40" font-size="6.9" text-anchor="middle" textLength="3.80" lengthAdjust="spacingAndGlyphs" fill="#222">0</text>
<line x1="336.97" y1="606.20" x2="336.97" y2="609.20" stroke="#000" stroke-width="0.9"/>
<text x="336.97" y="618.40" font-size="6.9" text-anchor="middle" textLength="7.60" lengthAdjust="spacingAndGlyphs" fill="#222">12</text>
<line x1="364.54" y1="606.20" x2="364.54" y2="609.20" stroke="#000" stroke-width="0.9"/>
<text x="364.54" y="618.40" font-size="6.9" text-anchor="middle" textLength="7.60" lengthAdjust="spacingAndGlyphs" fill="#222">24</text>
<line x1="392.11" y1="606.20" x2="392.11" y2="609.20" stroke="#000" stroke-width="0.9"/>
<text x="392.11" y="618.40" font-size="6.9" text-anchor="middle" textLength="7.60" lengthAdjust="spacingAndGlyphs" fill="#222">36</text>
<line x1="419.69" y1="606.20" x2="419.69" y2="609.20" stroke="#000" stroke-width="0.9"/>
<text x="419.69" y="618.40" font-size="6.9" text-anchor="middle" textLength="7.60" lengthAdjust="spacingAndGlyphs" fill="#222">48</text>
<line x1="447.26" y1="606.20" x2="447.26" y2="609.20" stroke="#000" stroke-width="0.9"/>
<text x="447.26" y="618.40" font-size="6.9" text-anchor="middle" textLength="7.60" lengthAdjust="spacingAndGlyphs" fill="#222">60</text>
<line x1="474.83" y1="606.20" x2="474.83" y2="609.20" stroke="#000" stroke-width="0.9"/>
<text x="474.83" y="618.40" font-size="6.9" text-anchor="middle" textLength="7.60" lengthAdjust="spacingAndGlyphs" fill="#222">72</text>
<line x1="502.40" y1="606.20" x2="502.40" y2="609.20" stroke="#000" stroke-width="0.9"/>
<text x="502.40" y="618.40" font-size="6.9" text-anchor="middle" textLength="7.60" lengthAdjust="spacingAndGlyphs" fill="#222">84</text>
<text x="405.90" y="631.00" font-size="9.2" text-anchor="middle" textLength="73.00" lengthAdjust="spacingAndGlyphs">Months from index visit</text>
<text x="405.90" y="642.50" font-size="6.6" text-anchor="middle" textLength="45.60" lengthAdjust="spacingAndGlyphs">Patients-at-Risk</text>
<text x="294.50" y="650.80" font-size="5.8" text-anchor="middle" textLength="3.00" lengthAdjust="spacingAndGlyphs">1</text>
<text x="309.40" y="650.80" font-size="6.0" text-anchor="middle" textLength="6.34" lengthAdjust="spacingAndGlyphs">25</text>
<text x="336.97" y="650.80" font-size="6.0" text-anchor="middle" textLength="6.34" lengthAdjust="spacingAndGlyphs">25</text>
<text x="364.54" y="650.80" font-size="6.0" text-anchor="middle" textLength="6.34" lengthAdjust="spacingAndGlyphs">21</text>
<text x="392.11" y="650.80" font-size="6.0" text-anchor="middle" textLength="6.34" lengthAdjust="spacingAndGlyphs">15</text>
<text x="419.69" y="650.80" font-size="6.0" text-anchor="middle" textLength="5.92" lengthAdjust="spacingAndGlyphs">11</text>
<text x="447.26" y="650.80" font-size="6.0" text-anchor="middle" textLength="3.17" lengthAdjust="spacingAndGlyphs">9</text>
<text x="474.83" y="650.80" font-size="6.0" text-anchor="middle" textLength="3.17" lengthAdjust="spacingAndGlyphs">7</text>
<text x="502.40" y="650.80" font-size="6.0" text-anchor="middle" textLength="3.17" lengthAdjust="spacingAndGlyphs">3</text>
<text x="294.50" y="657.50" font-size="5.8" text-anchor="middle" textLength="3.00" lengthAdjust="spacingAndGlyphs">2</text>
<text x="309.40" y="657.50" font-size="6.0" text-anchor="middle" textLength="9.51" lengthAdjust="spacingAndGlyphs">158</text>
<text x="336.97" y="657.50" font-size="6.0" text-anchor="middle" textLength="9.51" lengthAdjust="spacingAndGlyphs">158</text>
<text x="364.54" y="657.50" font-size="6.0" text-anchor="middle" textLength="9.51" lengthAdjust="spacingAndGlyphs">134</text>
<text x="392.11" y="657.50" font-size="6.0" text-anchor="middle" textLength="9.51" lengthAdjust="spacingAndGlyphs">107</text>
<text x="419.69" y="657.50" font-size="6.0" text-anchor="middle" textLength="6.34" lengthAdjust="spacingAndGlyphs">79</text>
<text x="447.26" y="657.50" font-size="6.0" text-anchor="middle" textLength="6.34" lengthAdjust="spacingAndGlyphs">56</text>
<text x="474.83" y="657.50" font-size="6.0" text-anchor="middle" textLength="6.34" lengthAdjust="spacingAndGlyphs">40</text>
<text x="502.40" y="657.50" font-size="6.0" text-anchor="middle" textLength="6.34" lengthAdjust="spacingAndGlyphs">24</text>
<text x="294.50" y="664.30" font-size="5.8" text-anchor="middle" textLength="3.00" lengthAdjust="spacingAndGlyphs">3</text>
<text x="309.40" y="664.30" font-size="6.0" text-anchor="middle" textLength="9.51" lengthAdjust="spacingAndGlyphs">195</text>
<text x="336.97" y="664.30" font-size="6.0" text-anchor="middle" textLength="9.51" lengthAdjust="spacingAndGlyphs">195</text>
<text x="364.54" y="664.30" font-size="6.0" text-anchor="middle" textLength="9.51" lengthAdjust="spacingAndGlyphs">169</text>
<text x="392.11" y="664.30" font-size="6.0" text-anchor="middle" textLength="9.51" lengthAdjust="spacingAndGlyphs">141</text>
<text x="419.69" y="664.30" font-size="6.0" text-anchor="middle" textLength="9.51" lengthAdjust="spacingAndGlyphs">100</text>
<text x="447.26" y="664.30" font-size="6.0" text-anchor="middle" textLength="6.34" lengthAdjust="spacingAndGlyphs">73</text>
<text x="474.83" y="664.30" font-size="6.0" text-anchor="middle" textLength="6.34" lengthAdjust="spacingAndGlyphs">51</text>
<text x="502.40" y="664.30" font-size="6.0" text-anchor="middle" textLength="6.34" lengthAdjust="spacingAndGlyphs">35</text>
<text x="0" y="0" font-size="7.1" text-anchor="middle" textLength="79.00" lengthAdjust="spacingAndGlyphs" transform="translate(282.00,545.00) rotate(-90)">Proportion with evolution</text>
<text x="358.00" y="490.30" font-size="5.5" text-anchor="middle" font-weight="bold" textLength="26.00" lengthAdjust="spacingAndGlyphs">Trajectory</text>
<text x="382.80" y="490.30" font-size="5.5" text-anchor="middle" font-weight="bold" textLength="16.00" lengthAdjust="spacingAndGlyphs">Group</text>
<text x="410.60" y="490.30" font-size="5.5" text-anchor="middle" font-weight="bold" textLength="32.20" lengthAdjust="spacingAndGlyphs">Events/Total</text>
<text x="444.30" y="490.30" font-size="5.5" text-anchor="middle" font-weight="bold" textLength="27.00" lengthAdjust="spacingAndGlyphs">Time-Point</text>
<text x="485.60" y="490.30" font-size="5.5" text-anchor="middle" font-weight="bold" textLength="47.30" lengthAdjust="spacingAndGlyphs">1-KM Est (95% CI)</text>
<line x1="327.10" y1="500.60" x2="341.70" y2="500.60" stroke="#6b4c9a" stroke-width="1.6"/>
<text x="382.80" y="499.00" font-size="6.2" text-anchor="middle" textLength="19.13" lengthAdjust="spacingAndGlyphs" fill="#262626">PLT125</text>
<text x="410.60" y="499.00" font-size="6.2" text-anchor="middle" textLength="10.86" lengthAdjust="spacingAndGlyphs" fill="#262626">4/25</text>
<text x="444.30" y="499.00" font-size="6.2" text-anchor="middle" textLength="26.06" lengthAdjust="spacingAndGlyphs" fill="#262626">84 months</text>
<text x="485.60" y="499.00" font-size="6.2" text-anchor="middle" textLength="39.71" lengthAdjust="spacingAndGlyphs" fill="#262626">0.29 (0.00-0.51)</text>
<line x1="327.10" y1="508.80" x2="341.70" y2="508.80" stroke="#c8103a" stroke-width="1.6"/>
<text x="382.80" y="507.70" font-size="6.2" text-anchor="middle" textLength="19.13" lengthAdjust="spacingAndGlyphs" fill="#262626">PLT300</text>
<text x="410.60" y="507.70" font-size="6.2" text-anchor="middle" textLength="17.07" lengthAdjust="spacingAndGlyphs" fill="#262626">14/158</text>
<text x="444.30" y="507.70" font-size="6.2" text-anchor="middle" textLength="26.06" lengthAdjust="spacingAndGlyphs" fill="#262626">84 months</text>
<text x="485.60" y="507.70" font-size="6.2" text-anchor="middle" textLength="39.71" lengthAdjust="spacingAndGlyphs" fill="#262626">0.18 (0.07-0.27)</text>
<line x1="327.10" y1="516.90" x2="341.70" y2="516.90" stroke="#3e5fa3" stroke-width="1.6"/>
<text x="382.80" y="516.70" font-size="6.2" text-anchor="middle" textLength="19.13" lengthAdjust="spacingAndGlyphs" fill="#262626">PLT600</text>
<text x="410.60" y="516.70" font-size="6.2" text-anchor="middle" textLength="17.07" lengthAdjust="spacingAndGlyphs" fill="#262626">18/195</text>
<text x="444.30" y="516.70" font-size="6.2" text-anchor="middle" textLength="26.06" lengthAdjust="spacingAndGlyphs" fill="#262626">84 months</text>
<text x="485.60" y="516.70" font-size="6.2" text-anchor="middle" textLength="39.71" lengthAdjust="spacingAndGlyphs" fill="#262626">0.15 (0.07-0.22)</text>
<text x="345.00" y="526.40" font-size="6.2" textLength="60.13" lengthAdjust="spacingAndGlyphs" fill="#262626">Logrank P-value: 0.2168</text>
<text x="509.20" y="525.70" font-size="6.2" text-anchor="end" textLength="22.80" lengthAdjust="spacingAndGlyphs" fill="#262626">+ Censor</text>
<path d="M309.40,604.00H343.30V599.20H383.50V592.80H403.70V584.00H475.20V570.00H502.80V570.00" fill="none" stroke="#6b4c9a" stroke-width="1.1" stroke-opacity="1.0"/>
<path d="M360.00,598.10V600.30M370.00,598.10V600.30M420.00,582.90V585.10M440.00,582.90V585.10M460.00,582.90V585.10M485.00,568.90V571.10M495.00,568.90V571.10" fill="none" stroke="#6b4c9a" stroke-width="0.7" stroke-opacity="1.0"/>
<path d="M345.00,603.90H349.00V602.80H351.20V602.40H357.90V601.80H366.00V601.00H374.00V600.50H379.40V599.70H394.20V598.90H398.30V597.80H401.00V597.50H419.90V596.20H435.40V595.50H446.10V593.50H448.20V592.40H454.90V590.10H477.40V587.60H500.60V583.20H502.80V583.20" fill="none" stroke="#c8103a" stroke-width="1.1" stroke-opacity="1.0"/>
<path d="M360.00,600.70V602.90M370.00,599.90V602.10M385.00,598.60V600.80M410.00,596.40V598.60M425.00,595.10V597.30M440.00,594.40V596.60M460.00,589.00V591.20M465.00,589.00V591.20M470.00,589.00V591.20M485.00,586.50V588.70M490.00,586.50V588.70" fill="none" stroke="#c8103a" stroke-width="0.7" stroke-opacity="1.0"/>
<path d="M309.40,603.80H379.40V603.80" fill="none" stroke="#8ea4cc" stroke-width="1.8" stroke-opacity="1.0"/>
<path d="M379.40,603.80H379.40V603.00H392.90V602.40H398.90V601.40H403.00V600.60H407.80V599.80H411.80V599.00H417.20V598.30H425.30V597.60H427.30V596.80H435.40V595.50H446.10V594.50H448.80V593.50H451.50V592.40H455.60V590.50H475.00V590.00H478.00V587.00H502.80V586.50" fill="none" stroke="#3e5fa3" stroke-width="1.1" stroke-opacity="1.0"/>
<path d="M385.00,601.90V604.10M440.00,594.40V596.60M460.00,589.40V591.60M465.00,589.40V591.60M470.00,589.40V591.60M485.00,585.90V588.10M490.00,585.90V588.10M495.00,585.90V588.10" fill="none" stroke="#3e5fa3" stroke-width="0.7" stroke-opacity="1.0"/>
<rect x="0.55" y="0.55" width="518.9" height="671.9" fill="none" stroke="#000" stroke-width="1.3"/>
</svg>
</body></html>
